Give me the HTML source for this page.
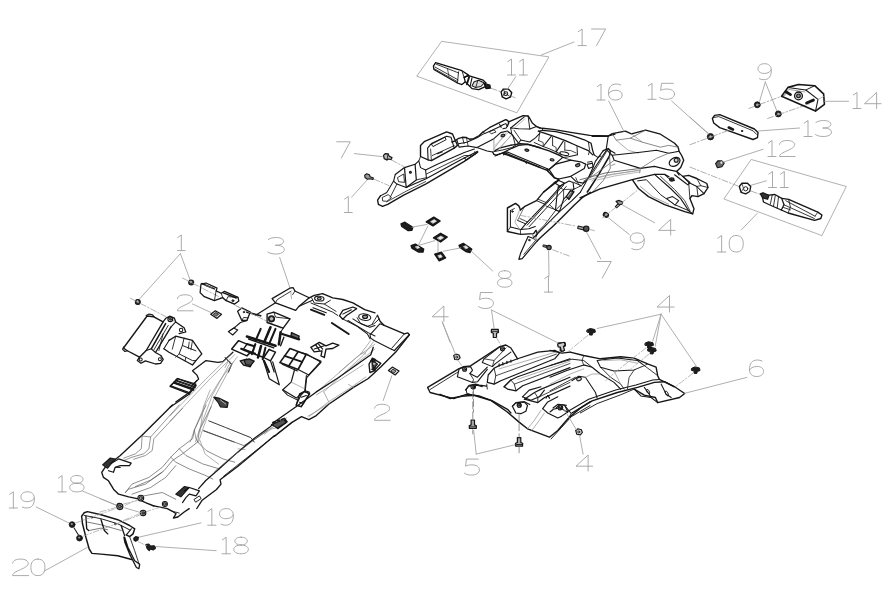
<!DOCTYPE html>
<html><head><meta charset="utf-8"><title>Parts diagram</title>
<style>html,body{margin:0;padding:0;background:#fff;}body{width:894px;height:606px;overflow:hidden;font-family:"Liberation Sans",sans-serif;}svg{display:block}</style>
</head><body>
<svg width="894" height="606" viewBox="0 0 894 606" stroke-linecap="round" stroke-linejoin="round">
<defs><filter id="soft" x="0" y="0" width="894" height="606" filterUnits="userSpaceOnUse"><feGaussianBlur stdDeviation="0.45"/></filter></defs>
<rect width="894" height="606" fill="#ffffff"/>
<g filter="url(#soft)">
<polygon points="442.0,41.4 548.9,56.9 516.9,112.8 417.1,76.3" fill="none" stroke="#9a9a9a" stroke-width="0.77"/>
<polygon points="435.6,62.6 433.4,66.2 433.9,69.5 457.4,83.0 461.9,84.6 465.3,81.8 464.1,77.4 468.6,75.1 461.9,70.7" fill="none" stroke="#111" stroke-width="1.27"/>
<polyline points="436.2,64.2 458.6,72.9" fill="none" stroke="#151515" stroke-width="0.85"/>
<polyline points="435.1,67.1 458.0,79.8" fill="none" stroke="#151515" stroke-width="0.85"/>
<polyline points="434.6,68.9 457.4,81.6" fill="none" stroke="#151515" stroke-width="0.77"/>
<polyline points="458.6,71.8 457.4,83.0" fill="none" stroke="#151515" stroke-width="0.85"/>
<polyline points="461.9,70.7 464.1,77.4" fill="none" stroke="#151515" stroke-width="0.85"/>
<polyline points="447.4,68.4 449.0,76.3" fill="none" stroke="#151515" stroke-width="0.68"/>
<polyline points="464.1,77.4 468.6,75.7 474.2,77.4 483.2,80.2 486.0,83.0 484.8,86.9 478.7,89.7 472.0,88.6 469.7,86.3 465.3,81.8" fill="none" stroke="#111" stroke-width="1.27"/>
<polyline points="469.2,76.8 466.9,84.3" fill="none" stroke="#151515" stroke-width="1.87"/>
<polyline points="472.0,77.9 470.2,85.9" fill="none" stroke="#151515" stroke-width="1.1"/>
<polygon points="474.2,81.8 478.7,80.2 484.3,83.0 480.9,86.5 475.3,87.4 472.0,85.8" fill="#ddd" stroke="#151515" stroke-width="1.02"/>
<polyline points="477.6,81.3 475.9,86.9" fill="none" stroke="#151515" stroke-width="0.85"/>
<polygon points="484.3,83.5 489.9,85.2 490.4,88.0 486.0,88.6" fill="#222" stroke="#111" stroke-width="1.27"/>
<polyline points="491.2,88.3 499.9,91.5" fill="none" stroke="#9a9a9a" stroke-width="0.8" stroke-dasharray="6 2 1.5 2"/>
<polyline points="512.2,96.6 515.2,97.7" fill="none" stroke="#9a9a9a" stroke-width="0.8" stroke-dasharray="6 2 1.5 2"/>
<polygon points="501.1,91.9 503.3,89.1 508.3,89.1 511.7,92.5 510.6,96.9 506.1,98.8 502.2,96.9" fill="none" stroke="#111" stroke-width="1.36"/>
<circle cx="505.8" cy="93.7" r="1.9" fill="none" stroke="#151515" stroke-width="1.02"/>
<polyline points="503.3,89.1 504.9,93.0 502.2,96.9" fill="none" stroke="#151515" stroke-width="0.77"/>
<polyline points="504.9,93.0 510.6,96.9" fill="none" stroke="#151515" stroke-width="0.68"/>
<path d="M18 16 L40 0 L40 100 M16 100 L64 100" transform="translate(507.5 59.0) scale(0.1667 0.1600) translate(-16 0)" fill="none" stroke="#a0a0a0" stroke-width="0.9" vector-effect="non-scaling-stroke"/>
<path d="M18 16 L40 0 L40 100 M16 100 L64 100" transform="translate(519.3 59.0) scale(0.1667 0.1600) translate(-16 0)" fill="none" stroke="#a0a0a0" stroke-width="0.9" vector-effect="non-scaling-stroke"/>
<line x1="515.7" y1="76.8" x2="507.3" y2="89.3" stroke="#a0a0a0" stroke-width="0.85"/>
<path d="M18 16 L40 0 L40 100 M16 100 L64 100" transform="translate(578.0 29.0) scale(0.1729 0.1660) translate(-16 0)" fill="none" stroke="#a0a0a0" stroke-width="0.9" vector-effect="non-scaling-stroke"/>
<path d="M6 0 L74 0 L30 100" transform="translate(591.6 29.0) scale(0.2060 0.1660) translate(-6 0)" fill="none" stroke="#a0a0a0" stroke-width="0.9" vector-effect="non-scaling-stroke"/>
<line x1="541.3" y1="55.0" x2="574.0" y2="42.0" stroke="#a0a0a0" stroke-width="0.85"/>
<polyline points="380.4,195.9 377.6,200.1 378.4,204.3 382.6,206.3 387.7,204.3 403.7,195.1 425.6,184.1 464.3,161.4 477.7,152.1" fill="none" stroke="#151515" stroke-width="1.36"/>
<polyline points="380.4,195.9 386.8,192.5 393.6,181.1" fill="none" stroke="#151515" stroke-width="1.02"/>
<polygon points="382.6,197.3 388.2,194.6 391.5,197.6 386.8,201.3 383.1,201.0" fill="none" stroke="#151515" stroke-width="0.85"/>
<polyline points="390.2,197.3 396.9,184.1" fill="none" stroke="#151515" stroke-width="0.85"/>
<polyline points="406.2,187.5 425.6,179.1 460.9,159.7 477.7,151.3" fill="none" stroke="#151515" stroke-width="1.1"/>
<polyline points="386.8,201.8 406.2,191.2 425.6,181.6" fill="none" stroke="#151515" stroke-width="0.77"/>
<polyline points="395.3,174.4 404.5,167.6" fill="none" stroke="#151515" stroke-width="1.19"/>
<polyline points="395.3,174.4 393.6,181.1 396.9,184.1 406.2,187.5" fill="none" stroke="#151515" stroke-width="1.1"/>
<polygon points="397.8,177.4 403.7,174.0 404.5,182.4 399.0,181.8" fill="none" stroke="#151515" stroke-width="0.85"/>
<polygon points="404.5,167.6 415.1,164.3 416.3,179.9 406.2,187.5" fill="none" stroke="#151515" stroke-width="1.19"/>
<circle cx="410.4" cy="172.3" r="1.0" fill="#555" stroke="#151515" stroke-width="1.02"/>
<polyline points="415.1,164.3 418.8,160.9 420.5,167.6 425.6,170.0 426.4,177.7" fill="none" stroke="#151515" stroke-width="1.02"/>
<polyline points="416.3,179.9 426.4,177.7" fill="none" stroke="#151515" stroke-width="0.85"/>
<polyline points="425.6,170.0 437.3,164.3 464.3,152.5 474.4,149.1" fill="none" stroke="#151515" stroke-width="1.02"/>
<polyline points="426.4,174.0 464.3,155.5 471.0,155.5" fill="none" stroke="#151515" stroke-width="0.85"/>
<polyline points="418.8,160.9 420.5,156.5" fill="none" stroke="#151515" stroke-width="0.85"/>
<polyline points="420.5,156.5 420.5,145.4 424.2,141.7 446.6,131.9 452.5,134.0 457.5,145.4 454.2,148.1 431.4,160.6 428.1,159.9 420.5,156.5" fill="none" stroke="#151515" stroke-width="1.36"/>
<polyline points="428.1,159.9 427.6,148.1 430.6,144.4 446.6,136.3 451.1,137.3 454.2,148.1" fill="none" stroke="#151515" stroke-width="1.1"/>
<polygon points="431.4,143.4 444.9,137.0 446.1,139.7 433.3,146.4" fill="none" stroke="#151515" stroke-width="0.94"/>
<polyline points="432.3,155.5 454.2,145.7" fill="none" stroke="#151515" stroke-width="0.85"/>
<polyline points="431.4,160.6 430.6,149.1" fill="none" stroke="#151515" stroke-width="0.77"/>
<polyline points="437.3,153.8 442.4,151.8" fill="none" stroke="#151515" stroke-width="1.02"/>
<polyline points="540.1,128.0 542.4,128.3 553.2,129.4 570.8,132.3 589.7,135.4 607.3,136.0 615.0,134.1" fill="none" stroke="#151515" stroke-width="1.36"/>
<polyline points="542.4,130.3 555.9,131.7 570.8,135.2 584.3,139.8 591.1,143.3 592.7,150.6 594.1,154.9" fill="none" stroke="#151515" stroke-width="1.27"/>
<polyline points="542.4,128.3 542.4,130.3 538.3,131.1" fill="none" stroke="#151515" stroke-width="0.94"/>
<polyline points="588.4,142.2 589.7,150.6 588.4,154.7" fill="none" stroke="#151515" stroke-width="0.85"/>
<polyline points="538.3,131.1 551.8,135.7 565.4,140.6 577.5,146.0 588.4,150.6 592.7,154.9" fill="none" stroke="#151515" stroke-width="1.27"/>
<polyline points="539.7,132.5 538.6,140.6" fill="none" stroke="#151515" stroke-width="0.85"/>
<polyline points="551.2,136.4 543.2,146.5" fill="none" stroke="#151515" stroke-width="1.02"/>
<polyline points="552.6,137.1 552.6,145.5" fill="none" stroke="#151515" stroke-width="0.85"/>
<polyline points="563.3,141.1 556.2,151.9" fill="none" stroke="#151515" stroke-width="1.02"/>
<polyline points="564.8,141.9 564.8,150.1" fill="none" stroke="#151515" stroke-width="0.85"/>
<polyline points="577.0,146.5 577.5,154.7" fill="none" stroke="#151515" stroke-width="0.94"/>
<polyline points="534.2,142.5 543.2,146.5 549.1,148.7 556.2,151.9 561.6,154.7" fill="none" stroke="#151515" stroke-width="0.94"/>
<polyline points="538.6,140.6 543.2,142.5 543.2,146.5" fill="none" stroke="#151515" stroke-width="0.77"/>
<polyline points="552.6,145.5 556.2,147.6 556.2,151.9" fill="none" stroke="#151515" stroke-width="0.77"/>
<polyline points="564.8,150.1 570.8,150.6 576.2,153.0" fill="none" stroke="#151515" stroke-width="0.77"/>
<ellipse cx="564.3" cy="153.6" rx="4.6" ry="1.6" fill="none" stroke="#151515" stroke-width="1.02" transform="rotate(12 564.3 153.6)"/>
<polyline points="577.5,154.7 568.7,156.8 562.7,157.4" fill="none" stroke="#151515" stroke-width="1.02"/>
<polyline points="520.0,143.8 527.5,144.1 535.6,146.5 549.1,150.9 560.0,155.5 562.7,157.4" fill="none" stroke="#151515" stroke-width="1.36"/>
<polyline points="511.2,145.2 520.0,143.8" fill="none" stroke="#151515" stroke-width="1.27"/>
<polyline points="495.0,150.6 499.1,148.2 511.2,145.2" fill="none" stroke="#151515" stroke-width="1.27"/>
<polyline points="503.1,152.8 507.4,151.9 549.1,169.5 553.5,165.5 562.7,157.4" fill="none" stroke="#151515" stroke-width="1.1"/>
<polyline points="503.1,152.8 495.0,156.0" fill="none" stroke="#151515" stroke-width="1.02"/>
<polyline points="505.1,154.1 526.1,162.2 547.2,170.4 549.1,169.5" fill="none" stroke="#151515" stroke-width="1.36"/>
<ellipse cx="526.8" cy="150.2" rx="2.0" ry="1.1" fill="#888" stroke="#151515" stroke-width="1.02" transform="rotate(8 526.8 150.2)"/>
<ellipse cx="552.1" cy="159.8" rx="2.0" ry="1.1" fill="#888" stroke="#151515" stroke-width="1.02" transform="rotate(8 552.1 159.8)"/>
<polyline points="503.4,153.0 503.9,154.7" fill="none" stroke="#151515" stroke-width="1.36"/>
<polyline points="525.9,162.0 526.4,163.3" fill="none" stroke="#151515" stroke-width="1.19"/>
<polyline points="547.2,169.3 547.8,170.9" fill="none" stroke="#151515" stroke-width="1.36"/>
<polyline points="508.5,132.3 512.6,134.6 515.3,144.9" fill="none" stroke="#151515" stroke-width="0.94"/>
<polyline points="495.0,145.5 508.5,132.3" fill="none" stroke="#999" stroke-width="0.68"/>
<polyline points="499.1,148.2 511.2,135.7" fill="none" stroke="#999" stroke-width="0.68"/>
<polygon points="549.1,169.5 555.9,164.1 570.8,160.1 581.6,162.2 585.7,164.1 584.3,168.5 570.8,176.3 558.6,179.0 554.5,177.7" fill="none" stroke="#151515" stroke-width="1.19"/>
<polyline points="547.2,170.4 554.5,177.9 558.6,179.3" fill="none" stroke="#151515" stroke-width="1.44"/>
<ellipse cx="577.8" cy="165.2" rx="2.2" ry="1.4" fill="#888" stroke="#151515" stroke-width="1.1" transform="rotate(-15 577.8 165.2)"/>
<polyline points="558.6,179.3 556.6,182.0 543.7,192.0" fill="none" stroke="#151515" stroke-width="1.36"/>
<polyline points="570.8,176.3 576.2,181.7 583.0,183.1 588.4,177.7 592.7,168.2" fill="none" stroke="#151515" stroke-width="1.1"/>
<polyline points="562.7,157.4 570.8,160.1" fill="none" stroke="#151515" stroke-width="0.85"/>
<polygon points="587.0,164.4 592.4,163.3 593.2,166.8 588.6,168.5" fill="none" stroke="#151515" stroke-width="1.1"/>
<polyline points="587.6,162.2 591.9,161.4 592.4,163.3" fill="none" stroke="#151515" stroke-width="0.94"/>
<polyline points="594.1,154.9 597.8,157.4 600.8,156.0" fill="none" stroke="#151515" stroke-width="1.02"/>
<polyline points="603.3,150.6 608.1,148.6 610.3,150.6 609.5,156.0 599.2,173.6 589.7,188.5 587.3,192.0" fill="none" stroke="#151515" stroke-width="1.53"/>
<polyline points="603.3,150.6 595.4,161.4 592.7,168.2" fill="none" stroke="#151515" stroke-width="1.1"/>
<polyline points="606.2,150.6 595.4,166.8 588.4,177.7 580.5,192.0" fill="none" stroke="#151515" stroke-width="1.02"/>
<polyline points="608.1,149.2 597.8,165.5 589.7,177.7" fill="none" stroke="#151515" stroke-width="0.77"/>
<polyline points="610.3,150.6 615.0,153.3" fill="none" stroke="#151515" stroke-width="1.1"/>
<polyline points="609.5,156.0 610.3,168.2 603.3,180.4 592.7,192.0" fill="none" stroke="#666" stroke-width="0.85"/>
<polyline points="611.6,165.5 615.0,164.1" fill="none" stroke="#777" stroke-width="0.77"/>
<polyline points="520.5,210.0 518.8,205.8 515.5,203.4 507.4,208.0 507.4,231.5 520.5,234.4 533.6,233.6 536.0,230.4" fill="none" stroke="#151515" stroke-width="1.44"/>
<polyline points="510.4,210.5 510.4,227.0 520.5,229.4 528.9,228.7 535.3,226.5" fill="none" stroke="#151515" stroke-width="1.02"/>
<polyline points="510.4,210.5 514.4,208.5" fill="none" stroke="#151515" stroke-width="0.85"/>
<circle cx="512.4" cy="211.5" r="0.8" fill="#666" stroke="#151515" stroke-width="0.85"/>
<polyline points="507.4,231.5 510.4,227.0" fill="none" stroke="#151515" stroke-width="0.85"/>
<polyline points="520.5,234.4 520.5,229.4" fill="none" stroke="#151515" stroke-width="0.77"/>
<polyline points="536.0,230.4 537.3,234.1 534.8,239.1 528.1,236.6" fill="none" stroke="#151515" stroke-width="1.1"/>
<polyline points="528.1,236.6 520.5,253.6 518.8,259.3 522.2,258.7 537.0,241.1" fill="none" stroke="#151515" stroke-width="1.19"/>
<polyline points="523.9,254.3 536.0,239.8" fill="none" stroke="#151515" stroke-width="0.77"/>
<circle cx="529.3" cy="240.1" r="0.8" fill="#666" stroke="#151515" stroke-width="0.85"/>
<polyline points="532.6,234.1 533.6,239.1 537.0,239.1" fill="#ddd" stroke="#666" stroke-width="0.77"/>
<polyline points="451.8,142.0 454.6,141.1 458.0,138.7 462.4,137.3 466.4,137.5 469.4,139.2 473.7,138.7 479.3,135.5 482.6,132.2 489.4,127.7 498.4,123.2 505.7,119.6 507.9,120.7 508.7,123.0 507.3,126.3" fill="none" stroke="#151515" stroke-width="1.36"/>
<polyline points="508.7,121.8 523.1,115.7 528.1,116.0 529.8,118.5 532.3,123.0 536.5,126.5 540.0,128.0" fill="none" stroke="#151515" stroke-width="1.36"/>
<polyline points="500.6,126.3 502.9,124.8 505.7,123.6 507.3,126.3 506.2,128.1 502.9,128.8" fill="none" stroke="#151515" stroke-width="1.02"/>
<polyline points="499.5,124.3 501.2,127.4" fill="none" stroke="#151515" stroke-width="1.02"/>
<polyline points="458.5,143.7 466.9,142.3 477.0,137.8 482.6,134.4 489.4,131.5 500.6,126.3" fill="none" stroke="#151515" stroke-width="1.02"/>
<polyline points="482.6,132.2 485.1,133.3" fill="none" stroke="#151515" stroke-width="0.85"/>
<polygon points="489.4,131.5 493.9,129.9 496.1,131.9 491.6,133.7" fill="none" stroke="#151515" stroke-width="0.85"/>
<polyline points="456.8,139.8 459.1,147.1 468.1,146.0 477.0,147.6 493.9,138.7 500.6,132.6 507.3,131.0 511.8,134.4 518.6,143.2" fill="none" stroke="#151515" stroke-width="1.1"/>
<polyline points="462.4,137.3 464.1,143.7" fill="none" stroke="#151515" stroke-width="0.85"/>
<polyline points="466.4,137.5 468.1,146.0" fill="none" stroke="#151515" stroke-width="0.77"/>
<polyline points="477.0,147.6 487.1,151.0 492.7,152.1" fill="none" stroke="#151515" stroke-width="1.02"/>
<polyline points="464.1,157.7 466.4,160.0 475.9,153.5 474.8,151.7" fill="none" stroke="#151515" stroke-width="1.02"/>
<polyline points="492.7,152.1 493.9,154.4 496.1,155.1 502.9,152.8 511.8,148.3 518.6,145.4 527.5,144.3 540.0,147.6" fill="none" stroke="#151515" stroke-width="1.27"/>
<polyline points="493.9,138.7 493.9,151.6" fill="none" stroke="#777" stroke-width="0.68"/>
<polyline points="493.9,151.6 502.9,149.9 511.8,147.6 518.6,143.2" fill="none" stroke="#151515" stroke-width="0.94"/>
<polyline points="507.3,131.0 493.9,149.0" fill="none" stroke="#999" stroke-width="0.68"/>
<polyline points="511.8,134.4 498.4,150.1" fill="none" stroke="#999" stroke-width="0.68"/>
<ellipse cx="502.9" cy="135.5" rx="2.0" ry="1.2" fill="#777" stroke="#151515" stroke-width="1.02" transform="rotate(-15 502.9 135.5)"/>
<polyline points="506.2,153.3 540.0,167.4" fill="none" stroke="#151515" stroke-width="1.27"/>
<polyline points="504.0,153.3 505.7,154.4" fill="none" stroke="#151515" stroke-width="1.7"/>
<ellipse cx="527.0" cy="150.2" rx="1.7" ry="0.9" fill="#999" stroke="#151515" stroke-width="0.94" transform="rotate(5 527.0 150.2)"/>
<polyline points="510.7,128.0 524.2,116.8" fill="none" stroke="#151515" stroke-width="1.02"/>
<polyline points="510.7,128.0 518.6,128.8 529.8,129.1 536.5,126.5" fill="none" stroke="#151515" stroke-width="1.02"/>
<polyline points="529.8,129.1 528.1,116.0" fill="none" stroke="#151515" stroke-width="0.94"/>
<polyline points="511.8,134.4 510.7,128.0" fill="none" stroke="#151515" stroke-width="0.94"/>
<polyline points="518.6,143.2 520.8,140.0 525.3,141.1 529.8,142.0 535.4,137.8 540.0,133.1" fill="none" stroke="#151515" stroke-width="1.02"/>
<polyline points="520.8,140.0 514.1,130.3" fill="none" stroke="#151515" stroke-width="0.85"/>
<polyline points="513.0,129.1 525.3,118.5" fill="none" stroke="#999" stroke-width="0.68"/>
<polyline points="592.1,136.2 608.2,136.2 612.2,133.6 625.3,131.1 631.5,133.8 645.6,130.1 660.5,134.2 674.6,143.2 678.2,147.2 679.1,151.3 681.7,155.5 683.7,160.3 680.7,167.4 676.6,171.4 679.1,174.8" fill="none" stroke="#151515" stroke-width="1.36"/>
<polyline points="612.2,133.6 616.2,140.2 630.3,138.2 645.6,130.1" fill="none" stroke="#666" stroke-width="0.77"/>
<polyline points="616.2,140.2 628.3,150.3 638.4,153.1" fill="none" stroke="#888" stroke-width="0.68"/>
<polyline points="630.3,138.2 642.4,142.2 660.5,147.2 668.6,145.4 678.2,147.2" fill="none" stroke="#666" stroke-width="0.77"/>
<polyline points="631.5,133.8 642.4,142.2" fill="none" stroke="#888" stroke-width="0.68"/>
<polyline points="608.2,136.2 606.2,149.3 612.2,155.3 640.4,152.3 656.5,150.3 668.6,153.3 679.1,151.3" fill="none" stroke="#151515" stroke-width="1.1"/>
<polyline points="612.2,155.3 614.2,160.3 640.4,168.4 654.5,166.4 666.6,169.4 676.6,171.4" fill="none" stroke="#151515" stroke-width="1.1"/>
<polyline points="640.4,168.4 656.5,158.3 668.6,153.3" fill="none" stroke="#666" stroke-width="0.77"/>
<polyline points="640.4,168.4 639.6,172.8" fill="none" stroke="#666" stroke-width="0.77"/>
<polyline points="580.0,197.8 600.1,188.9 632.3,179.7 654.5,174.4 664.6,174.4 669.0,176.8" fill="none" stroke="#151515" stroke-width="1.36"/>
<polyline points="580.0,179.7 606.2,172.8 640.4,168.4" fill="none" stroke="#555" stroke-width="0.85"/>
<polyline points="584.0,180.9 608.2,174.8 639.6,170.4" fill="none" stroke="#888" stroke-width="0.68"/>
<polyline points="614.2,160.3 592.1,176.4 584.0,180.9" fill="none" stroke="#666" stroke-width="0.77"/>
<ellipse cx="674.6" cy="161.9" rx="5.8" ry="4.0" fill="none" stroke="#151515" stroke-width="1.27" transform="rotate(-30 674.6 161.9)"/>
<circle cx="676.2" cy="160.3" r="2.0" fill="#ccc" stroke="#151515" stroke-width="1.1"/>
<polyline points="677.0,171.6 686.7,179.7 689.9,182.5 687.9,184.9 684.7,182.5 674.6,174.8" fill="none" stroke="#151515" stroke-width="1.1"/>
<ellipse cx="671.8" cy="179.5" rx="2.2" ry="1.6" fill="#444" stroke="#151515" stroke-width="1.1" transform="rotate(0 671.8 179.5)"/>
<polyline points="664.6,174.4 668.6,178.5 674.6,180.5" fill="none" stroke="#151515" stroke-width="0.94"/>
<polyline points="632.3,179.7 638.4,188.5 648.5,196.6 664.6,204.6 684.7,211.7 692.7,213.9 694.0,208.7 689.9,198.6 691.9,195.6 698.0,196.6 704.0,193.6 708.0,187.5 706.8,183.5 696.8,178.5 688.7,175.4 682.7,176.4" fill="none" stroke="#151515" stroke-width="1.36"/>
<polyline points="637.6,180.9 646.4,179.7 660.5,194.6 674.6,204.6 688.7,210.7" fill="none" stroke="#151515" stroke-width="0.94"/>
<polyline points="640.4,186.5 652.5,196.6 668.6,204.2" fill="none" stroke="#777" stroke-width="0.68"/>
<polyline points="654.5,174.4 670.6,188.5 680.7,198.6 688.7,210.7 692.7,213.9" fill="none" stroke="#151515" stroke-width="1.1"/>
<polyline points="660.5,176.4 674.6,189.5 684.7,200.6 689.9,210.7" fill="none" stroke="#151515" stroke-width="0.77"/>
<polyline points="666.6,198.6 672.6,196.6 678.7,200.6 675.0,205.0" fill="none" stroke="#151515" stroke-width="1.02"/>
<polyline points="666.6,198.6 675.0,205.0" fill="none" stroke="#151515" stroke-width="0.77"/>
<polyline points="682.7,176.4 688.7,182.5 696.8,186.5 704.0,193.6" fill="none" stroke="#151515" stroke-width="1.02"/>
<polyline points="696.8,186.5 698.0,196.6" fill="none" stroke="#151515" stroke-width="0.85"/>
<polyline points="688.7,182.5 689.9,198.6" fill="none" stroke="#151515" stroke-width="0.85"/>
<polyline points="696.8,178.5 700.8,185.7 708.0,187.5" fill="none" stroke="#151515" stroke-width="0.85"/>
<polyline points="700.8,185.7 696.8,186.5" fill="none" stroke="#151515" stroke-width="0.77"/>
<polyline points="590.4,192.3 582.2,197.7 574.1,205.2 564.7,214.7 553.8,225.5 540.3,237.7 537.1,241.0" fill="none" stroke="#151515" stroke-width="1.36"/>
<polyline points="580.5,192.1 571.4,201.1 560.6,210.6 547.1,224.1 536.2,235.0 533.5,237.7" fill="none" stroke="#151515" stroke-width="1.1"/>
<polyline points="574.1,191.7 564.7,201.1 556.5,209.2 544.6,224.9 536.5,233.1" fill="none" stroke="#151515" stroke-width="0.85"/>
<polyline points="640.0,170.0 614.7,174.1 595.8,178.1 591.7,181.1" fill="none" stroke="#999" stroke-width="0.68"/>
<polyline points="640.0,171.9 614.7,176.0 597.1,180.0" fill="none" stroke="#999" stroke-width="0.68"/>
<polygon points="554.1,182.5 558.2,180.3 564.4,183.0 560.4,186.5" fill="none" stroke="#151515" stroke-width="1.02"/>
<polyline points="560.4,186.5 544.7,204.1 525.7,223.9 520.3,230.4" fill="none" stroke="#151515" stroke-width="1.1"/>
<polyline points="563.6,185.2 546.8,203.3 527.1,225.2" fill="none" stroke="#151515" stroke-width="0.94"/>
<polyline points="566.3,186.5 549.5,204.7 529.2,226.6" fill="none" stroke="#151515" stroke-width="0.94"/>
<polyline points="536.5,200.6 544.7,204.1" fill="none" stroke="#151515" stroke-width="0.94"/>
<polyline points="538.2,199.2 546.0,202.5" fill="none" stroke="#151515" stroke-width="0.77"/>
<polyline points="517.6,220.4 525.7,223.9" fill="none" stroke="#151515" stroke-width="0.94"/>
<polyline points="519.8,218.5 527.6,222.0" fill="none" stroke="#151515" stroke-width="0.77"/>
<polyline points="524.4,206.7 517.6,220.4" fill="none" stroke="#555" stroke-width="0.77"/>
<polyline points="520.3,208.2 514.9,222.2 520.3,230.4" fill="none" stroke="#8c8c8c" stroke-width="0.68"/>
<polygon points="556.8,197.3 558.2,187.1 569.0,181.1 573.1,182.5 573.9,189.2 563.6,199.2 559.5,211.4 555.5,210.1" fill="none" stroke="#151515" stroke-width="1.1"/>
<polyline points="558.2,187.1 563.6,189.5 573.9,189.2" fill="none" stroke="#151515" stroke-width="0.77"/>
<polyline points="563.6,189.5 563.6,199.2" fill="none" stroke="#151515" stroke-width="0.77"/>
<polygon points="566.3,196.5 570.4,190.6 573.9,191.9 569.0,199.5" fill="#666" stroke="#151515" stroke-width="1.19"/>
<polyline points="567.7,196.3 570.9,192.2" fill="none" stroke="#ddd" stroke-width="0.85"/>
<polyline points="573.9,182.5 581.2,185.7 586.6,180.3" fill="none" stroke="#151515" stroke-width="0.94"/>
<polyline points="573.9,189.2 581.2,185.7" fill="none" stroke="#151515" stroke-width="0.85"/>
<polyline points="559.5,211.4 546.0,206.0" fill="none" stroke="#151515" stroke-width="0.85"/>
<polyline points="555.5,210.1 549.5,204.7" fill="none" stroke="#151515" stroke-width="0.77"/>
<polyline points="575.8,177.6 578.5,184.4 581.2,185.7" fill="none" stroke="#151515" stroke-width="0.77"/>
<polyline points="543.7,191.9 536.5,200.6 524.4,206.7 520.4,209.9" fill="none" stroke="#151515" stroke-width="1.36"/>
<polyline points="559.5,180.3 554.1,183.0 543.7,191.9" fill="none" stroke="#151515" stroke-width="1.27"/>
<path d="M14 94 C20 98 28 100 36 100 C62 100 73 76 73 44 C73 16 62 0 39 0 C20 0 7 12 7 31 C7 50 20 61 38 61 C56 61 70 50 73 38" transform="translate(758.0 63.7) scale(0.2015 0.1600) translate(-7 0)" fill="none" stroke="#a0a0a0" stroke-width="0.9" vector-effect="non-scaling-stroke"/>
<line x1="765.3" y1="82.0" x2="759.6" y2="101.3" stroke="#a0a0a0" stroke-width="0.85"/>
<line x1="765.3" y1="82.0" x2="776.7" y2="110.5" stroke="#a0a0a0" stroke-width="0.85"/>
<circle cx="757.3" cy="104.8" r="3.0" fill="#222" stroke="#151515" stroke-width="0.85"/>
<circle cx="757.3" cy="104.8" r="1.0" fill="#bbb" stroke="#aaa" stroke-width="0.51"/>
<circle cx="778.3" cy="113.9" r="3.0" fill="#222" stroke="#151515" stroke-width="0.85"/>
<circle cx="778.3" cy="113.9" r="1.0" fill="#bbb" stroke="#aaa" stroke-width="0.51"/>
<polyline points="748.9,108.4 785.8,94.7" fill="none" stroke="#9a9a9a" stroke-width="0.8" stroke-dasharray="6 2 1.5 2"/>
<polyline points="767.6,118.5 809.1,103.9" fill="none" stroke="#9a9a9a" stroke-width="0.8" stroke-dasharray="6 2 1.5 2"/>
<polygon points="781.6,96.2 788.0,87.4 798.5,84.5 814.7,85.7 823.6,93.8 824.4,104.3 815.5,111.1" fill="none" stroke="#151515" stroke-width="1.61"/>
<polyline points="788.0,87.4 805.8,90.0 818.0,99.4 815.5,111.1" fill="none" stroke="#151515" stroke-width="1.02"/>
<polyline points="805.8,90.0 814.7,85.7" fill="none" stroke="#151515" stroke-width="0.94"/>
<polyline points="818.0,99.4 824.1,96.2" fill="none" stroke="#999" stroke-width="0.68"/>
<polyline points="784.0,95.5 788.8,89.4 805.0,92.0" fill="none" stroke="#777" stroke-width="0.68"/>
<circle cx="798.5" cy="95.9" r="3.9" fill="#ddd" stroke="#151515" stroke-width="1.27"/>
<circle cx="798.5" cy="95.9" r="1.9" fill="#888" stroke="#151515" stroke-width="1.1"/>
<polyline points="785.9,91.7 790.5,94.6" fill="none" stroke="#151515" stroke-width="2.89"/>
<polyline points="806.6,103.0 813.4,100.1" fill="none" stroke="#151515" stroke-width="2.89"/>
<path d="M18 16 L40 0 L40 100 M16 100 L64 100" transform="translate(853.0 92.5) scale(0.1667 0.1600) translate(-16 0)" fill="none" stroke="#a0a0a0" stroke-width="0.9" vector-effect="non-scaling-stroke"/>
<path d="M58 100 L58 0 L4 70 L78 70" transform="translate(864.5 92.5) scale(0.2243 0.1600) translate(-4 0)" fill="none" stroke="#a0a0a0" stroke-width="0.9" vector-effect="non-scaling-stroke"/>
<line x1="824.6" y1="101.3" x2="848.6" y2="101.3" stroke="#a0a0a0" stroke-width="0.85"/>
<polygon points="712.4,118.5 714.6,115.3 719.7,114.6 754.4,129.0 758.0,132.6 757.5,137.6 753.0,139.5 719.7,127.6 713.7,123.0" fill="none" stroke="#151515" stroke-width="1.36"/>
<polyline points="713.7,117.5 718.8,116.6 753.0,130.8 756.6,134.4" fill="none" stroke="#151515" stroke-width="0.85"/>
<polyline points="728.8,127.6 732.9,129.4" fill="none" stroke="#151515" stroke-width="2.72"/>
<circle cx="742.0" cy="131.0" r="0.7" fill="#222" stroke="#151515" stroke-width="0.85"/>
<path d="M18 16 L40 0 L40 100 M16 100 L64 100" transform="translate(804.0 120.5) scale(0.1667 0.1600) translate(-16 0)" fill="none" stroke="#a0a0a0" stroke-width="0.9" vector-effect="non-scaling-stroke"/>
<path d="M8 12 C16 4 28 0 40 0 C58 0 70 9 70 24 C70 40 56 47 36 47 C58 47 73 56 73 73 C73 90 58 100 38 100 C24 100 12 95 6 88" transform="translate(815.5 120.5) scale(0.2388 0.1600) translate(-6 0)" fill="none" stroke="#a0a0a0" stroke-width="0.9" vector-effect="non-scaling-stroke"/>
<line x1="758.5" y1="131.0" x2="799.5" y2="128.0" stroke="#a0a0a0" stroke-width="0.85"/>
<circle cx="710.5" cy="136.7" r="3.2" fill="#222" stroke="#151515" stroke-width="0.85"/>
<circle cx="710.5" cy="136.7" r="1.1" fill="#bbb" stroke="#aaa" stroke-width="0.51"/>
<line x1="690.0" y1="117.3" x2="708.3" y2="133.3" stroke="#a0a0a0" stroke-width="0.85"/>
<polyline points="690.0,144.7 729.9,129.9" fill="none" stroke="#9a9a9a" stroke-width="0.8" stroke-dasharray="6 2 1.5 2"/>
<path d="M18 16 L40 0 L40 100 M16 100 L64 100" transform="translate(648.0 83.3) scale(0.1667 0.1600) translate(-16 0)" fill="none" stroke="#a0a0a0" stroke-width="0.9" vector-effect="non-scaling-stroke"/>
<path d="M68 0 L16 0 L12 44 C20 38 30 36 40 36 C60 36 73 48 73 67 C73 88 58 100 38 100 C24 100 13 95 7 88" transform="translate(659.5 83.3) scale(0.2273 0.1600) translate(-7 0)" fill="none" stroke="#a0a0a0" stroke-width="0.9" vector-effect="non-scaling-stroke"/>
<line x1="671.6" y1="101.0" x2="708.5" y2="134.0" stroke="#a0a0a0" stroke-width="0.85"/>
<path d="M18 16 L40 0 L40 100 M16 100 L64 100" transform="translate(597.0 84.0) scale(0.1667 0.1600) translate(-16 0)" fill="none" stroke="#a0a0a0" stroke-width="0.9" vector-effect="non-scaling-stroke"/>
<path d="M66 6 C60 2 52 0 44 0 C18 0 7 24 7 56 C7 84 18 100 41 100 C60 100 73 88 73 69 C73 50 60 39 42 39 C24 39 10 50 7 62" transform="translate(608.5 84.0) scale(0.2061 0.1600) translate(-7 0)" fill="none" stroke="#a0a0a0" stroke-width="0.9" vector-effect="non-scaling-stroke"/>
<line x1="608.7" y1="101.0" x2="624.0" y2="131.6" stroke="#a0a0a0" stroke-width="0.85"/>
<path d="M18 16 L40 0 L40 100 M16 100 L64 100" transform="translate(768.0 140.5) scale(0.1667 0.1600) translate(-16 0)" fill="none" stroke="#a0a0a0" stroke-width="0.9" vector-effect="non-scaling-stroke"/>
<path d="M8 24 C10 8 22 0 40 0 C60 0 72 10 72 26 C72 42 58 52 40 64 C22 76 8 86 8 100 L74 100" transform="translate(779.5 140.5) scale(0.2364 0.1600) translate(-8 0)" fill="none" stroke="#a0a0a0" stroke-width="0.9" vector-effect="non-scaling-stroke"/>
<line x1="724.2" y1="161.8" x2="763.0" y2="149.3" stroke="#a0a0a0" stroke-width="0.85"/>
<polygon points="715.6,163.6 717.8,160.9 721.9,160.9 724.2,163.2 721.9,166.8 717.4,167.8" fill="#666" stroke="#151515" stroke-width="1.1"/>
<circle cx="721.5" cy="162.7" r="1.6" fill="#ddd" stroke="#555" stroke-width="0.68"/>
<polygon points="751.6,159.6 846.3,186.5 821.9,235.6 724.2,199.1" fill="none" stroke="#9a9a9a" stroke-width="0.77"/>
<path d="M18 16 L40 0 L40 100 M16 100 L64 100" transform="translate(717.5 235.5) scale(0.1719 0.1650) translate(-16 0)" fill="none" stroke="#a0a0a0" stroke-width="0.9" vector-effect="non-scaling-stroke"/>
<path d="M40 0 C14 0 6 22 6 50 C6 78 14 100 40 100 C66 100 74 78 74 50 C74 22 66 0 40 0 Z" transform="translate(729.2 235.5) scale(0.2063 0.1650) translate(-6 0)" fill="none" stroke="#a0a0a0" stroke-width="0.9" vector-effect="non-scaling-stroke"/>
<line x1="741.3" y1="229.9" x2="757.3" y2="213.4" stroke="#a0a0a0" stroke-width="0.85"/>
<path d="M18 16 L40 0 L40 100 M16 100 L64 100" transform="translate(768.5 171.5) scale(0.1667 0.1600) translate(-16 0)" fill="none" stroke="#a0a0a0" stroke-width="0.9" vector-effect="non-scaling-stroke"/>
<path d="M18 16 L40 0 L40 100 M16 100 L64 100" transform="translate(780.3 171.5) scale(0.1667 0.1600) translate(-16 0)" fill="none" stroke="#a0a0a0" stroke-width="0.9" vector-effect="non-scaling-stroke"/>
<line x1="766.4" y1="180.8" x2="750.5" y2="185.4" stroke="#a0a0a0" stroke-width="0.85"/>
<polygon points="739.3,186.5 742.0,183.3 747.5,183.3 750.7,186.5 749.8,191.5 745.7,193.8 741.1,192.4" fill="none" stroke="#151515" stroke-width="1.36"/>
<circle cx="745.7" cy="188.8" r="2.1" fill="none" stroke="#151515" stroke-width="0.94"/>
<polyline points="742.0,183.3 743.4,188.3 741.1,192.4" fill="none" stroke="#151515" stroke-width="0.68"/>
<polyline points="690.0,167.1 739.1,186.5" fill="none" stroke="#9a9a9a" stroke-width="0.8" stroke-dasharray="6 2 1.5 2"/>
<polyline points="751.2,191.1 759.8,194.3" fill="none" stroke="#9a9a9a" stroke-width="0.8" stroke-dasharray="6 2 1.5 2"/>
<polygon points="760.3,193.8 763.0,192.7 769.0,195.2 767.6,199.3 762.6,197.9" fill="#333" stroke="#151515" stroke-width="1.19"/>
<polyline points="769.0,195.2 774.9,194.5 781.7,198.4 784.0,204.8 781.3,210.0 769.9,205.0 763.5,202.0 762.6,197.9" fill="none" stroke="#151515" stroke-width="1.27"/>
<polyline points="772.2,195.2 770.3,204.3" fill="none" stroke="#151515" stroke-width="0.85"/>
<polyline points="775.3,195.6 773.5,206.1" fill="none" stroke="#151515" stroke-width="0.85"/>
<polyline points="778.5,197.0 777.2,208.0" fill="none" stroke="#151515" stroke-width="0.85"/>
<polyline points="781.7,198.4 788.6,199.3 817.8,212.1 821.9,215.0 820.8,218.5 814.6,220.3 788.1,213.0 781.3,210.0" fill="none" stroke="#151515" stroke-width="1.36"/>
<polyline points="785.8,200.7 815.1,216.2" fill="none" stroke="#151515" stroke-width="0.85"/>
<polyline points="784.0,204.8 814.4,218.5" fill="none" stroke="#151515" stroke-width="0.85"/>
<polyline points="788.6,199.3 790.4,207.1 788.1,213.0" fill="none" stroke="#151515" stroke-width="0.85"/>
<polyline points="815.1,216.2 817.8,212.1" fill="none" stroke="#151515" stroke-width="0.77"/>
<polyline points="783.6,207.5 790.4,209.8" fill="none" stroke="#151515" stroke-width="0.85"/>
<path d="M6 0 L74 0 L30 100" transform="translate(336.7 141.8) scale(0.1985 0.1600) translate(-6 0)" fill="none" stroke="#a0a0a0" stroke-width="0.9" vector-effect="non-scaling-stroke"/>
<line x1="354.4" y1="153.6" x2="382.2" y2="156.6" stroke="#a0a0a0" stroke-width="0.85"/>
<polygon points="383.5,155.3 385.2,153.6 388.1,153.9 389.3,156.3 392.0,157.6 391.3,159.6 388.6,159.0 386.9,160.0 384.2,158.6" fill="#bbb" stroke="#151515" stroke-width="1.19"/>
<polyline points="388.1,153.9 386.9,160.0" fill="none" stroke="#151515" stroke-width="0.85"/>
<polyline points="391.6,160.0 404.1,166.7" fill="none" stroke="#a0a0a0" stroke-width="0.8" stroke-dasharray="6 2 1.5 2"/>
<path d="M18 16 L40 0 L40 100 M16 100 L64 100" transform="translate(344.3 196.5) scale(0.1667 0.1600) translate(-16 0)" fill="none" stroke="#a0a0a0" stroke-width="0.9" vector-effect="non-scaling-stroke"/>
<line x1="351.5" y1="197.3" x2="367.4" y2="179.7" stroke="#a0a0a0" stroke-width="0.85"/>
<polygon points="364.7,175.1 366.7,173.8 369.4,174.8 370.1,176.8 373.4,178.1 373.1,179.5 369.4,178.8 367.4,179.2 365.0,177.5" fill="#999" stroke="#151515" stroke-width="1.1"/>
<polyline points="374.1,179.2 388.9,185.6" fill="none" stroke="#a0a0a0" stroke-width="0.8" stroke-dasharray="6 2 1.5 2"/>
<polygon points="401.0,223.9 404.9,222.2 412.8,227.2 411.9,230.3 408.2,230.6 401.8,226.5" fill="#1c1c1c" stroke="#151515" stroke-width="1.36"/>
<polygon points="426.2,221.8 433.8,217.1 440.2,221.0 433.0,225.9" fill="#1c1c1c" stroke="#151515" stroke-width="1.36"/>
<polygon points="430.8,221.5 434.2,219.5 436.5,221.2 433.1,223.2" fill="#e8e8e8" stroke="#ddd" stroke-width="0.68"/>
<polygon points="433.5,237.8 440.6,233.3 447.3,237.0 440.6,242.0" fill="#1c1c1c" stroke="#151515" stroke-width="1.36"/>
<polygon points="437.5,238.0 440.9,236.0 443.6,237.7 440.2,239.7" fill="#e8e8e8" stroke="#ddd" stroke-width="0.68"/>
<polygon points="411.1,245.7 415.3,244.1 423.7,249.1 423.0,252.1 418.7,252.1 411.9,248.1" fill="#1c1c1c" stroke="#151515" stroke-width="1.36"/>
<polygon points="415.6,246.8 418.0,246.1 419.7,247.8 417.3,248.4" fill="#e8e8e8" stroke="#ddd" stroke-width="0.68"/>
<polygon points="434.7,254.2 441.4,252.1 445.6,258.0 439.2,260.9" fill="#1c1c1c" stroke="#151515" stroke-width="1.36"/>
<polygon points="438.2,255.5 440.9,254.8 442.2,256.9 439.5,257.9" fill="#e8e8e8" stroke="#ddd" stroke-width="0.68"/>
<polygon points="459.1,245.4 463.3,243.4 471.7,249.1 470.0,252.5 465.8,251.5 459.9,247.4" fill="#1c1c1c" stroke="#151515" stroke-width="1.36"/>
<polygon points="463.8,246.4 466.1,245.7 468.2,247.8 465.8,248.8" fill="#e8e8e8" stroke="#ddd" stroke-width="0.68"/>
<line x1="412.0" y1="227.2" x2="427.1" y2="224.4" stroke="#a0a0a0" stroke-width="0.85"/>
<line x1="427.9" y1="226.0" x2="418.7" y2="244.6" stroke="#a0a0a0" stroke-width="0.85"/>
<line x1="418.7" y1="245.4" x2="434.7" y2="240.7" stroke="#a0a0a0" stroke-width="0.85"/>
<line x1="438.0" y1="241.2" x2="438.0" y2="252.1" stroke="#a0a0a0" stroke-width="0.85"/>
<line x1="443.1" y1="251.3" x2="460.8" y2="247.9" stroke="#a0a0a0" stroke-width="0.85"/>
<line x1="470.9" y1="250.8" x2="492.7" y2="271.0" stroke="#a0a0a0" stroke-width="0.85"/>
<path d="M40 0 C22 0 11 9 11 23 C11 38 24 47 40 47 C56 47 69 38 69 23 C69 9 58 0 40 0 Z M40 47 C20 47 6 57 6 73 C6 90 20 100 40 100 C60 100 74 90 74 73 C74 57 60 47 40 47 Z" transform="translate(497.5 270.7) scale(0.2123 0.1650) translate(-6 0)" fill="none" stroke="#a0a0a0" stroke-width="0.9" vector-effect="non-scaling-stroke"/>
<polygon points="578.1,226.0 584.3,227.4 584.0,230.1 577.7,228.4" fill="#aaa" stroke="#151515" stroke-width="1.02"/>
<circle cx="586.2" cy="228.7" r="2.7" fill="#555" stroke="#151515" stroke-width="1.19"/>
<line x1="586.5" y1="232.1" x2="600.8" y2="259.0" stroke="#a0a0a0" stroke-width="0.85"/>
<path d="M6 0 L74 0 L30 100" transform="translate(597.4 261.5) scale(0.2047 0.1650) translate(-6 0)" fill="none" stroke="#a0a0a0" stroke-width="0.9" vector-effect="non-scaling-stroke"/>
<polyline points="520.0,215.3 576.4,226.2" fill="none" stroke="#a0a0a0" stroke-width="0.8" stroke-dasharray="6 2 1.5 2"/>
<polyline points="589.4,229.4 594.4,230.6" fill="none" stroke="#a0a0a0" stroke-width="0.8" stroke-dasharray="6 2 1.5 2"/>
<polygon points="543.6,244.9 546.9,245.6 546.6,247.6 543.2,246.6" fill="#888" stroke="#151515" stroke-width="0.94"/>
<circle cx="549.0" cy="247.6" r="2.2" fill="#666" stroke="#151515" stroke-width="1.1"/>
<line x1="548.6" y1="251.0" x2="549.0" y2="275.9" stroke="#a0a0a0" stroke-width="0.85"/>
<path d="M18 16 L40 0 L40 100 M16 100 L64 100" transform="translate(544.4 275.9) scale(0.1687 0.1620) translate(-16 0)" fill="none" stroke="#a0a0a0" stroke-width="0.9" vector-effect="non-scaling-stroke"/>
<polyline points="552.8,249.8 569.2,256.0" fill="none" stroke="#a0a0a0" stroke-width="0.8" stroke-dasharray="6 2 1.5 2"/>
<ellipse cx="605.9" cy="214.9" rx="2.7" ry="2.2" fill="#333" stroke="#151515" stroke-width="1.1" transform="rotate(30 605.9 214.9)"/>
<circle cx="606.2" cy="214.6" r="1.0" fill="#bbb" stroke="#aaa" stroke-width="0.51"/>
<line x1="608.4" y1="217.8" x2="629.4" y2="234.6" stroke="#a0a0a0" stroke-width="0.85"/>
<path d="M14 94 C20 98 28 100 36 100 C62 100 73 76 73 44 C73 16 62 0 39 0 C20 0 7 12 7 31 C7 50 20 61 38 61 C56 61 70 50 73 38" transform="translate(630.3 232.9) scale(0.2116 0.1680) translate(-7 0)" fill="none" stroke="#a0a0a0" stroke-width="0.9" vector-effect="non-scaling-stroke"/>
<polygon points="616.0,201.4 619.3,200.4 622.7,202.1 622.0,204.1 619.3,204.8" fill="#999" stroke="#151515" stroke-width="1.1"/>
<polygon points="617.6,204.1 615.3,206.8 616.6,207.8 619.7,205.2" fill="#bbb" stroke="#151515" stroke-width="1.02"/>
<line x1="622.7" y1="205.2" x2="654.7" y2="222.8" stroke="#a0a0a0" stroke-width="0.85"/>
<path d="M58 100 L58 0 L4 70 L78 70" transform="translate(658.7 219.3) scale(0.2215 0.1580) translate(-4 0)" fill="none" stroke="#a0a0a0" stroke-width="0.9" vector-effect="non-scaling-stroke"/>
<polyline points="602.5,217.9 637.8,190.0" fill="none" stroke="#a0a0a0" stroke-width="0.8" stroke-dasharray="6 2 1.5 2"/>
<path d="M18 16 L40 0 L40 100 M16 100 L64 100" transform="translate(177.4 235.0) scale(0.1625 0.1560) translate(-16 0)" fill="none" stroke="#a0a0a0" stroke-width="0.9" vector-effect="non-scaling-stroke"/>
<line x1="180.4" y1="253.6" x2="139.5" y2="299.0" stroke="#a0a0a0" stroke-width="0.85"/>
<line x1="180.4" y1="253.6" x2="190.0" y2="279.7" stroke="#a0a0a0" stroke-width="0.85"/>
<circle cx="191.2" cy="282.5" r="2.5" fill="#333" stroke="#151515" stroke-width="1.02"/>
<circle cx="190.9" cy="281.9" r="0.8" fill="#ccc" stroke="#bbb" stroke-width="0.42"/>
<circle cx="137.8" cy="302.1" r="2.5" fill="#333" stroke="#151515" stroke-width="1.02"/>
<circle cx="137.5" cy="301.4" r="0.8" fill="#ccc" stroke="#bbb" stroke-width="0.42"/>
<polyline points="182.4,278.0 239.7,307.4" fill="none" stroke="#a0a0a0" stroke-width="0.8" stroke-dasharray="6 2 1.5 2"/>
<polyline points="130.3,298.2 175.7,321.8" fill="none" stroke="#a0a0a0" stroke-width="0.8" stroke-dasharray="6 2 1.5 2"/>
<path d="M8 24 C10 8 22 0 40 0 C60 0 72 10 72 26 C72 42 58 52 40 64 C22 76 8 86 8 100 L74 100" transform="translate(177.4 294.8) scale(0.2364 0.1600) translate(-8 0)" fill="none" stroke="#a0a0a0" stroke-width="0.9" vector-effect="non-scaling-stroke"/>
<line x1="192.5" y1="304.0" x2="211.0" y2="312.5" stroke="#a0a0a0" stroke-width="0.85"/>
<polygon points="210.7,314.2 215.3,310.8 221.5,314.2 217.0,318.4" fill="#ddd" stroke="#151515" stroke-width="1.19"/>
<polygon points="213.6,314.2 215.8,312.5 218.6,314.2 216.4,316.0" fill="#777" stroke="#151515" stroke-width="0.77"/>
<polygon points="201.0,284.2 206.0,283.0 217.0,288.1 216.1,290.9 221.2,293.3 224.5,291.4 238.0,297.3 238.8,301.0 234.6,304.1 226.2,300.7 222.8,297.7 217.8,299.4 214.4,300.7 204.3,296.7 200.1,292.6" fill="none" stroke="#151515" stroke-width="1.27"/>
<polyline points="201.8,283.5 214.4,288.9" fill="none" stroke="#151515" stroke-width="1.44"/>
<polyline points="206.0,285.6 212.7,288.1" fill="none" stroke="#555" stroke-width="1.19"/>
<polyline points="222.8,292.6 236.3,298.0" fill="none" stroke="#151515" stroke-width="1.36"/>
<polyline points="221.2,293.3 222.8,297.7" fill="none" stroke="#151515" stroke-width="0.85"/>
<polyline points="226.2,300.7 227.9,296.7 238.0,297.3" fill="none" stroke="#151515" stroke-width="0.85"/>
<circle cx="232.9" cy="300.7" r="1.0" fill="#555" stroke="#151515" stroke-width="0.85"/>
<polyline points="216.1,290.9 214.4,300.7" fill="none" stroke="#151515" stroke-width="0.85"/>
<polygon points="147.1,316.0 123.5,348.0 126.9,350.5 139.5,357.2 146.2,350.5 163.1,321.9 153.8,316.8" fill="none" stroke="#151515" stroke-width="1.36"/>
<polyline points="146.2,315.5 149.1,314.1 152.5,314.8 154.2,316.8" fill="none" stroke="#151515" stroke-width="1.1"/>
<polyline points="123.9,346.8 122.5,349.2 124.9,351.5 127.6,350.8" fill="none" stroke="#151515" stroke-width="1.1"/>
<polyline points="139.5,357.2 137.3,360.6 141.0,363.3 145.4,360.9 155.5,364.0 160.6,363.3 163.2,359.3 160.9,355.6" fill="none" stroke="#151515" stroke-width="1.27"/>
<circle cx="140.7" cy="359.6" r="1.5" fill="none" stroke="#151515" stroke-width="1.02"/>
<circle cx="159.9" cy="359.3" r="1.5" fill="none" stroke="#151515" stroke-width="1.02"/>
<polyline points="163.1,321.9 165.9,318.2 169.6,316.2 174.4,318.2 175.7,321.9 184.1,327.8 185.8,332.0 179.1,333.7" fill="none" stroke="#151515" stroke-width="1.27"/>
<circle cx="170.3" cy="319.2" r="2.4" fill="none" stroke="#151515" stroke-width="1.19"/>
<circle cx="170.3" cy="319.2" r="1.0" fill="#777" stroke="#151515" stroke-width="0.85"/>
<circle cx="181.1" cy="330.0" r="1.7" fill="none" stroke="#151515" stroke-width="1.02"/>
<polyline points="165.6,323.6 151.3,348.8" fill="none" stroke="#151515" stroke-width="1.53"/>
<polyline points="171.0,326.9 155.5,352.5" fill="none" stroke="#151515" stroke-width="1.36"/>
<polyline points="168.3,325.3 153.5,350.5" fill="none" stroke="#151515" stroke-width="0.85"/>
<polyline points="146.2,350.5 151.3,348.8 155.5,352.5 160.9,355.6" fill="none" stroke="#151515" stroke-width="1.1"/>
<polyline points="175.7,321.9 171.0,326.9" fill="none" stroke="#151515" stroke-width="1.02"/>
<polyline points="163.1,333.7 158.9,350.5" fill="none" stroke="#151515" stroke-width="0.85"/>
<polyline points="169.0,340.4 175.7,336.2 192.5,340.4 201.8,353.9 195.9,360.6 192.5,365.0 187.5,362.3 169.0,352.2 163.9,348.8" fill="none" stroke="#151515" stroke-width="1.27"/>
<polyline points="169.0,340.4 163.9,348.8" fill="none" stroke="#151515" stroke-width="1.02"/>
<polyline points="184.1,338.0 182.4,345.5 195.9,350.8" fill="none" stroke="#151515" stroke-width="0.94"/>
<polyline points="189.2,342.1 188.3,348.8" fill="none" stroke="#151515" stroke-width="0.85"/>
<polyline points="182.4,345.5 179.1,353.9 192.5,360.6 195.9,360.6" fill="none" stroke="#151515" stroke-width="0.94"/>
<polyline points="175.7,336.2 172.3,349.2" fill="none" stroke="#151515" stroke-width="0.85"/>
<polyline points="192.5,340.4 190.9,349.8" fill="none" stroke="#151515" stroke-width="0.85"/>
<polyline points="179.1,353.9 175.7,357.2" fill="none" stroke="#151515" stroke-width="0.85"/>
<polyline points="185.8,357.2 185.1,360.9" fill="none" stroke="#151515" stroke-width="0.85"/>
<polyline points="232.9,352.2 222.8,361.6 217.8,362.3 206.0,360.6 192.5,370.7 196.9,375.1 198.6,379.1 192.5,385.0" fill="none" stroke="#151515" stroke-width="1.27"/>
<polygon points="177.4,378.5 170.7,385.9 189.2,392.6 195.9,384.2" fill="none" stroke="#151515" stroke-width="1.27"/>
<polyline points="174.0,382.5 192.5,388.6" fill="none" stroke="#151515" stroke-width="1.87"/>
<polyline points="175.7,380.1 194.2,386.2" fill="none" stroke="#151515" stroke-width="1.19"/>
<polyline points="189.2,392.6 175.7,402.0" fill="none" stroke="#151515" stroke-width="1.19"/>
<path d="M8 12 C16 4 28 0 40 0 C58 0 70 9 70 24 C70 40 56 47 36 47 C58 47 73 56 73 73 C73 90 58 100 38 100 C24 100 12 95 6 88" transform="translate(267.8 237.5) scale(0.2463 0.1650) translate(-6 0)" fill="none" stroke="#a0a0a0" stroke-width="0.9" vector-effect="non-scaling-stroke"/>
<line x1="279.7" y1="257.5" x2="290.0" y2="288.0" stroke="#a0a0a0" stroke-width="0.85"/>
<polygon points="272.1,298.6 289.8,288.2 293.2,287.7 294.9,291.0 309.2,297.8 299.1,306.2 295.7,310.4 275.5,302.8" fill="none" stroke="#151515" stroke-width="1.27"/>
<polyline points="275.5,302.8 277.2,299.6 291.0,291.2" fill="none" stroke="#151515" stroke-width="0.85"/>
<polyline points="294.9,291.0 292.7,294.6" fill="none" stroke="#151515" stroke-width="0.85"/>
<polyline points="299.1,306.2 312.5,300.3" fill="none" stroke="#151515" stroke-width="1.02"/>
<polyline points="290.7,291.2 291.5,298.6" fill="none" stroke="#8c8c8c" stroke-width="0.68"/>
<polyline points="309.2,297.8 314.2,295.3 322.6,293.6 332.7,297.8 342.8,299.5 352.9,302.8 364.7,309.6 375.0,312.9" fill="none" stroke="#151515" stroke-width="1.36"/>
<ellipse cx="319.3" cy="298.6" rx="4.7" ry="2.4" fill="none" stroke="#151515" stroke-width="1.1" transform="rotate(5 319.3 298.6)"/>
<ellipse cx="319.3" cy="298.6" rx="2.0" ry="1.3" fill="#aaa" stroke="#151515" stroke-width="1.02" transform="rotate(0 319.3 298.6)"/>
<polyline points="311.7,297.9 314.2,303.0 324.3,304.0 330.4,300.3" fill="none" stroke="#151515" stroke-width="0.94"/>
<polyline points="310.9,303.0 319.3,306.4 332.7,312.1 337.8,315.5" fill="none" stroke="#151515" stroke-width="0.94"/>
<polyline points="324.3,304.0 336.1,311.4" fill="none" stroke="#151515" stroke-width="0.85"/>
<polyline points="310.9,309.7 324.3,314.8" fill="none" stroke="#151515" stroke-width="1.87"/>
<polyline points="312.9,307.7 326.3,312.8" fill="none" stroke="#151515" stroke-width="1.02"/>
<polygon points="339.5,315.8 342.8,310.4 352.9,307.0 356.6,308.7 346.5,315.5 342.8,319.2" fill="none" stroke="#151515" stroke-width="1.27"/>
<polyline points="342.8,314.1 351.3,309.7" fill="none" stroke="#151515" stroke-width="1.02"/>
<ellipse cx="364.7" cy="317.1" rx="6.1" ry="3.2" fill="none" stroke="#151515" stroke-width="1.1" transform="rotate(8 364.7 317.1)"/>
<ellipse cx="365.1" cy="316.8" rx="2.5" ry="1.7" fill="#999" stroke="#151515" stroke-width="1.19" transform="rotate(0 365.1 316.8)"/>
<polyline points="352.9,318.8 358.0,322.2 369.8,327.2 375.0,325.6" fill="none" stroke="#151515" stroke-width="1.02"/>
<polyline points="347.9,320.5 368.1,332.6 375.0,336.0" fill="none" stroke="#151515" stroke-width="1.02"/>
<polyline points="331.9,323.0 348.7,334.0" fill="none" stroke="#151515" stroke-width="2.04"/>
<polyline points="255.3,315.5 275.5,302.8" fill="none" stroke="#151515" stroke-width="1.27"/>
<polyline points="246.9,312.1 260.7,315.8" fill="none" stroke="#151515" stroke-width="1.7"/>
<polygon points="237.6,311.2 241.8,307.9 250.3,312.1 246.9,320.5 241.8,320.5" fill="none" stroke="#151515" stroke-width="1.27"/>
<circle cx="243.9" cy="312.1" r="0.7" fill="#333" stroke="#151515" stroke-width="0.85"/>
<polyline points="241.8,320.5 243.5,317.5 248.2,317.8" fill="none" stroke="#151515" stroke-width="0.85"/>
<polyline points="236.8,306.2 280.6,328.1" fill="none" stroke="#a0a0a0" stroke-width="0.8" stroke-dasharray="6 2 1.5 2"/>
<polygon points="228.4,331.6 233.4,328.1 237.8,329.9 232.7,335.0" fill="none" stroke="#151515" stroke-width="1.1"/>
<polyline points="235.1,327.2 240.5,322.5 246.9,320.5" fill="none" stroke="#151515" stroke-width="1.1"/>
<polyline points="235.1,327.2 228.4,331.6" fill="none" stroke="#151515" stroke-width="1.02"/>
<polygon points="267.1,314.1 273.8,312.1 290.0,318.8 283.2,328.2 267.1,322.5" fill="none" stroke="#151515" stroke-width="1.36"/>
<circle cx="271.5" cy="318.8" r="2.9" fill="#444" stroke="#151515" stroke-width="1.36"/>
<circle cx="271.5" cy="318.8" r="1.2" fill="#bbb" stroke="#ccc" stroke-width="0.68"/>
<polyline points="273.8,312.1 275.5,317.1 290.0,318.8" fill="none" stroke="#151515" stroke-width="0.85"/>
<polyline points="246.9,336.5 275.5,345.8" fill="none" stroke="#151515" stroke-width="2.55"/>
<polyline points="248.6,339.0 273.8,347.8" fill="none" stroke="#151515" stroke-width="1.36"/>
<polyline points="260.7,328.9 255.6,340.7" fill="none" stroke="#151515" stroke-width="2.04"/>
<polyline points="270.5,327.2 264.1,342.4" fill="none" stroke="#151515" stroke-width="2.55"/>
<polyline points="275.5,328.9 269.1,344.1" fill="none" stroke="#151515" stroke-width="2.04"/>
<polyline points="280.6,332.3 278.9,344.4" fill="none" stroke="#151515" stroke-width="2.55"/>
<polyline points="282.2,334.0 299.1,339.4" fill="none" stroke="#151515" stroke-width="2.21"/>
<polygon points="291.5,332.6 299.1,336.0 298.4,339.0 291.0,336.0" fill="#666" stroke="#151515" stroke-width="1.36"/>
<polyline points="283.2,328.2 280.6,332.3" fill="none" stroke="#151515" stroke-width="1.02"/>
<polyline points="283.9,337.3 280.6,345.8" fill="none" stroke="#151515" stroke-width="1.36"/>
<polyline points="238.5,340.7 231.7,349.1 246.9,355.9 250.3,352.5 263.7,357.5 269.1,349.5" fill="none" stroke="#151515" stroke-width="1.53"/>
<polyline points="238.5,340.7 246.9,344.1 243.5,349.1 255.3,353.5" fill="none" stroke="#151515" stroke-width="1.36"/>
<polyline points="246.9,344.1 253.6,346.1" fill="none" stroke="#151515" stroke-width="2.04"/>
<polyline points="241.2,348.8 250.3,352.5" fill="none" stroke="#151515" stroke-width="2.21"/>
<polyline points="255.3,344.1 251.9,354.2" fill="none" stroke="#151515" stroke-width="2.04"/>
<polyline points="261.0,346.1 258.0,357.5" fill="none" stroke="#151515" stroke-width="2.55"/>
<polyline points="265.4,347.8 262.7,359.2" fill="none" stroke="#151515" stroke-width="2.04"/>
<polyline points="269.1,349.5 275.5,352.2 270.5,360.9 263.7,357.5" fill="none" stroke="#151515" stroke-width="1.36"/>
<polygon points="240.2,360.9 246.9,359.2 251.9,362.6 250.3,366.8 243.5,365.1" fill="#888" stroke="#151515" stroke-width="1.36"/>
<polyline points="264.1,360.9 269.1,372.0" fill="none" stroke="#151515" stroke-width="2.04"/>
<polyline points="270.5,360.9 274.2,372.0" fill="none" stroke="#151515" stroke-width="1.19"/>
<polygon points="279.9,362.6 290.0,348.5 306.1,354.5 298.1,369.5" fill="none" stroke="#151515" stroke-width="1.61"/>
<polyline points="284.6,355.9 302.1,361.9" fill="none" stroke="#151515" stroke-width="1.7"/>
<polyline points="298.1,351.8 288.6,366.1" fill="none" stroke="#151515" stroke-width="1.7"/>
<polyline points="306.1,354.5 321.1,361.2 308.8,374.9 298.1,369.5" fill="none" stroke="#151515" stroke-width="1.1"/>
<polyline points="282.2,364.3 297.4,371.0" fill="none" stroke="#151515" stroke-width="1.02"/>
<polygon points="310.9,347.4 319.3,342.4 326.0,345.8 332.7,343.2 338.8,345.1 332.7,348.5 326.0,349.1 324.3,357.5 321.0,355.9 322.0,350.8 314.2,351.8" fill="none" stroke="#151515" stroke-width="1.36"/>
<polyline points="315.9,345.1 319.3,350.1" fill="none" stroke="#151515" stroke-width="1.36"/>
<polyline points="318.6,344.1 322.6,349.1" fill="none" stroke="#151515" stroke-width="1.19"/>
<polyline points="314.2,349.1 324.3,345.8" fill="none" stroke="#151515" stroke-width="1.02"/>
<polyline points="375.0,344.1 356.3,357.5 339.5,372.0" fill="none" stroke="#8c8c8c" stroke-width="0.68"/>
<polyline points="375.0,349.1 359.7,360.9 346.2,372.0" fill="none" stroke="#8c8c8c" stroke-width="0.68"/>
<polyline points="371.1,360.9 375.0,359.2 375.0,371.0 371.8,369.3" fill="#555" stroke="#151515" stroke-width="1.27"/>
<polyline points="225.0,357.5 231.7,364.3 228.4,372.0" fill="none" stroke="#151515" stroke-width="1.02"/>
<polyline points="228.4,360.9 225.0,367.6" fill="none" stroke="#8c8c8c" stroke-width="0.68"/>
<polyline points="377.4,315.3 380.1,321.3 384.2,325.4 394.3,329.7 404.4,333.8 407.7,332.9 409.4,334.6 394.3,350.6" fill="none" stroke="#151515" stroke-width="1.36"/>
<polyline points="384.2,325.4 380.1,323.7 370.0,334.8 370.7,338.1 374.1,340.5 390.9,348.9 394.3,350.6" fill="none" stroke="#151515" stroke-width="1.1"/>
<polyline points="404.4,333.8 391.8,348.2" fill="none" stroke="#151515" stroke-width="0.94"/>
<polyline points="377.4,315.3 372.4,323.7" fill="none" stroke="#151515" stroke-width="0.85"/>
<polyline points="357.2,317.8 360.6,323.7 367.3,326.4 374.1,323.7 379.1,319.0" fill="none" stroke="#151515" stroke-width="0.94"/>
<polyline points="342.1,318.6 357.2,326.4 367.3,333.8 370.0,338.8" fill="none" stroke="#151515" stroke-width="1.02"/>
<polyline points="370.7,340.5 360.6,354.0 316.8,392.0" fill="none" stroke="#8c8c8c" stroke-width="0.68"/>
<polyline points="373.4,341.9 363.6,355.0 323.6,392.0" fill="none" stroke="#8c8c8c" stroke-width="0.68"/>
<polyline points="360.6,354.0 364.0,352.6 365.7,354.0" fill="none" stroke="#8c8c8c" stroke-width="0.68"/>
<polygon points="369.0,364.1 372.4,358.2 380.8,363.4 374.1,370.8 369.9,372.5" fill="none" stroke="#151515" stroke-width="1.36"/>
<polygon points="372.4,360.7 377.4,364.1 373.4,369.1" fill="#555" stroke="#151515" stroke-width="1.19"/>
<circle cx="374.1" cy="363.7" r="0.8" fill="#ddd" stroke="#ccc" stroke-width="0.68"/>
<polygon points="388.4,370.5 392.3,367.1 399.0,371.1 395.1,375.0" fill="#ddd" stroke="#151515" stroke-width="1.19"/>
<polygon points="391.2,370.8 392.9,369.1 396.0,371.1 394.3,372.8" fill="#999" stroke="#151515" stroke-width="0.77"/>
<path d="M58 100 L58 0 L4 70 L78 70" transform="translate(432.2 306.0) scale(0.2159 0.1540) translate(-4 0)" fill="none" stroke="#a0a0a0" stroke-width="0.9" vector-effect="non-scaling-stroke"/>
<line x1="442.3" y1="322.0" x2="450.0" y2="342.2" stroke="#a0a0a0" stroke-width="0.85"/>
<polyline points="300.0,352.3 306.7,354.0 321.0,362.4 306.7,377.5 305.1,392.0" fill="none" stroke="#151515" stroke-width="1.1"/>
<polygon points="177.6,378.7 170.0,386.3 189.4,393.9 196.1,385.5" fill="none" stroke="#151515" stroke-width="1.27"/>
<polyline points="174.2,382.9 193.6,389.8" fill="none" stroke="#151515" stroke-width="1.87"/>
<polyline points="176.1,381.1 195.3,387.8" fill="none" stroke="#151515" stroke-width="1.1"/>
<polyline points="189.4,393.9 170.0,407.3" fill="none" stroke="#151515" stroke-width="1.19"/>
<polyline points="191.9,385.5 196.9,380.4" fill="none" stroke="#151515" stroke-width="1.02"/>
<polyline points="232.3,353.5 208.7,376.2 170.0,415.8" fill="none" stroke="#8c8c8c" stroke-width="0.68"/>
<polyline points="234.6,354.8 211.1,377.7 170.0,421.1" fill="none" stroke="#8c8c8c" stroke-width="0.68"/>
<polyline points="237.3,356.8 218.8,382.1 205.4,404.0 195.3,427.5 190.2,442.0" fill="none" stroke="#8c8c8c" stroke-width="0.68"/>
<polyline points="230.6,361.9 212.1,395.6 200.3,427.5 195.3,442.0" fill="none" stroke="#8c8c8c" stroke-width="0.68"/>
<polyline points="233.3,361.9 214.8,396.6 203.0,428.6 198.6,442.0" fill="none" stroke="#8c8c8c" stroke-width="0.68"/>
<polyline points="263.4,360.2 269.3,378.7 279.4,384.8 272.7,361.9" fill="none" stroke="#151515" stroke-width="1.19"/>
<polygon points="244.1,360.2 249.1,358.9 254.2,361.2 250.8,365.3 245.8,364.6" fill="#555" stroke="#151515" stroke-width="1.27"/>
<polyline points="294.6,369.5 291.2,382.1 282.8,389.7 296.3,398.1 303.0,392.2" fill="none" stroke="#151515" stroke-width="1.19"/>
<polyline points="306.4,375.4 304.7,390.5 309.7,392.2" fill="none" stroke="#151515" stroke-width="1.02"/>
<polyline points="291.2,382.1 304.7,388.8" fill="none" stroke="#8c8c8c" stroke-width="0.68"/>
<polygon points="213.8,397.2 218.8,398.1 228.1,402.6 227.2,407.3 220.5,407.0 218.1,402.3" fill="#444" stroke="#151515" stroke-width="1.19"/>
<polyline points="220.5,399.9 225.6,404.0" fill="none" stroke="#ccc" stroke-width="0.85"/>
<polygon points="299.6,393.9 304.7,391.3 309.7,393.9 301.3,406.7 296.3,405.0" fill="none" stroke="#151515" stroke-width="1.27"/>
<polyline points="301.3,397.2 306.4,395.6" fill="none" stroke="#151515" stroke-width="1.02"/>
<polyline points="299.6,402.3 303.0,403.3" fill="none" stroke="#151515" stroke-width="1.02"/>
<polygon points="272.7,422.5 284.5,418.3 287.2,421.8 277.7,428.6" fill="#666" stroke="#151515" stroke-width="1.36"/>
<polyline points="276.1,420.8 277.7,425.9" fill="none" stroke="#ddd" stroke-width="1.02"/>
<polyline points="280.4,419.8 282.1,424.2" fill="none" stroke="#ddd" stroke-width="1.02"/>
<polyline points="208.7,420.8 225.6,427.5 250.8,437.6 254.2,442.0" fill="none" stroke="#151515" stroke-width="0.85"/>
<polyline points="203.7,430.9 234.0,442.0" fill="none" stroke="#151515" stroke-width="0.77"/>
<polyline points="264.3,434.3 271.0,429.2 277.7,427.5" fill="none" stroke="#8c8c8c" stroke-width="0.68"/>
<polyline points="172.4,405.0 143.8,433.6 120.3,455.5 105.1,467.3 101.7,472.3 103.4,477.4 108.5,480.8 113.5,489.2 118.6,494.2 128.7,496.8 137.1,498.6 145.5,502.6 153.9,506.0" fill="none" stroke="#151515" stroke-width="1.36"/>
<polyline points="179.2,405.0 150.6,437.0 148.9,448.8 143.8,453.8 132.0,457.2 123.6,460.6" fill="none" stroke="#666" stroke-width="0.68"/>
<polyline points="182.5,408.4 153.9,438.7 152.2,450.5 145.5,455.5 133.7,459.2" fill="none" stroke="#666" stroke-width="0.68"/>
<polyline points="142.1,436.1 141.3,448.8 135.4,453.8 123.6,458.2" fill="none" stroke="#666" stroke-width="0.68"/>
<polyline points="142.1,436.1 150.6,437.0" fill="none" stroke="#666" stroke-width="0.68"/>
<polyline points="206.1,405.0 194.3,430.3 192.6,438.7 179.2,448.8 170.8,457.2 162.3,467.3 148.9,477.4 132.0,484.1 125.3,492.5" fill="none" stroke="#555" stroke-width="0.68"/>
<polyline points="211.2,406.7 199.4,430.3 197.7,442.0 182.5,453.8 172.4,460.6 164.0,470.7 150.6,480.1 135.4,486.5" fill="none" stroke="#555" stroke-width="0.68"/>
<polyline points="194.3,430.3 196.0,438.7 197.7,442.0" fill="none" stroke="#666" stroke-width="0.68"/>
<polyline points="170.8,457.2 175.8,462.2 189.3,469.0 206.1,475.7 212.8,479.1" fill="none" stroke="#555" stroke-width="0.68"/>
<polyline points="179.2,448.8 185.9,455.5 202.7,463.9 219.6,469.0" fill="none" stroke="#555" stroke-width="0.68"/>
<polyline points="197.7,442.0 206.1,450.5 222.9,458.9 234.7,462.2" fill="none" stroke="#555" stroke-width="0.68"/>
<polyline points="238.1,448.8 245.0,449.6" fill="none" stroke="#8c8c8c" stroke-width="0.68"/>
<polygon points="102.6,464.8 110.2,458.0 115.2,458.9 107.6,468.3" fill="#333" stroke="#151515" stroke-width="1.02"/>
<polyline points="110.2,463.9 118.6,458.9 131.2,463.1 129.5,465.6 120.3,465.6 115.2,467.3 113.5,472.3 108.5,470.7" fill="none" stroke="#151515" stroke-width="1.19"/>
<polyline points="115.2,467.3 120.3,467.6" fill="none" stroke="#151515" stroke-width="1.02"/>
<polygon points="175.8,494.2 184.2,486.6 189.3,487.5 180.9,496.9" fill="#333" stroke="#151515" stroke-width="1.02"/>
<polyline points="184.2,490.9 189.3,487.5 199.4,490.9 196.0,495.9 189.3,494.2 185.9,497.6 182.5,502.6" fill="none" stroke="#151515" stroke-width="1.19"/>
<polygon points="194.3,499.3 199.4,495.9 201.1,498.6 196.0,502.0" fill="none" stroke="#151515" stroke-width="0.94"/>
<circle cx="140.8" cy="498.1" r="2.9" fill="#ddd" stroke="#151515" stroke-width="1.1"/>
<circle cx="140.8" cy="498.1" r="1.6" fill="#999" stroke="#151515" stroke-width="0.85"/>
<circle cx="164.9" cy="504.0" r="2.5" fill="#ddd" stroke="#151515" stroke-width="1.1"/>
<circle cx="164.9" cy="504.0" r="1.4" fill="#999" stroke="#151515" stroke-width="0.85"/>
<circle cx="119.4" cy="505.7" r="2.4" fill="#ddd" stroke="#151515" stroke-width="1.1"/>
<circle cx="119.4" cy="505.7" r="1.3" fill="#999" stroke="#151515" stroke-width="0.85"/>
<polyline points="125.3,492.5 128.7,489.2 145.5,484.1 162.3,472.3" fill="none" stroke="#555" stroke-width="0.68"/>
<polyline points="132.0,494.2 150.6,487.5 165.7,477.4 175.8,465.6" fill="none" stroke="#555" stroke-width="0.68"/>
<polyline points="138.8,496.8 162.3,492.5 175.8,499.3" fill="none" stroke="#555" stroke-width="0.68"/>
<polyline points="123.6,504.0 137.4,500.6" fill="none" stroke="#a0a0a0" stroke-width="0.7" stroke-dasharray="6 2 1.5 2"/>
<polygon points="271.5,424.5 284.2,419.5 285.9,422.8 277.4,428.0" fill="#555" stroke="#151515" stroke-width="1.27"/>
<polygon points="296.0,405.2 301.0,395.1 304.4,391.7 309.4,393.4 304.4,401.8 301.0,406.8" fill="none" stroke="#151515" stroke-width="1.19"/>
<polyline points="282.5,390.0 287.5,395.1 297.6,400.1" fill="none" stroke="#151515" stroke-width="1.02"/>
<polyline points="203.4,430.4 216.8,435.5 243.8,445.6 255.6,438.8 267.3,430.4" fill="none" stroke="#555" stroke-width="0.77"/>
<polyline points="200.0,440.5 205.1,454.0 218.5,464.1" fill="none" stroke="#8c8c8c" stroke-width="0.68"/>
<polyline points="210.1,390.0 203.4,406.8 200.0,432.1" fill="none" stroke="#8c8c8c" stroke-width="0.68"/>
<polyline points="274.3,422.1 295.3,407.2 316.3,391.9 338.6,377.5 358.4,363.4 370.8,354.8 373.3,347.3" fill="none" stroke="#151515" stroke-width="1.27"/>
<polyline points="274.3,436.4 291.6,422.6 301.5,416.6 308.9,419.6 316.3,415.6 328.7,404.3 353.5,387.4 368.3,378.5 380.7,367.1 395.5,352.3 409.2,335.0" fill="none" stroke="#151515" stroke-width="1.36"/>
<polyline points="308.9,416.6 328.7,401.8 353.5,385.7 365.8,377.0" fill="none" stroke="#8c8c8c" stroke-width="0.68"/>
<polyline points="316.3,394.9 338.6,380.7 363.4,364.7" fill="none" stroke="#8c8c8c" stroke-width="0.68"/>
<polyline points="323.8,391.9 328.7,401.8" fill="none" stroke="#8c8c8c" stroke-width="0.68"/>
<polyline points="348.5,384.5 353.5,387.4" fill="none" stroke="#8c8c8c" stroke-width="0.68"/>
<path d="M8 24 C10 8 22 0 40 0 C60 0 72 10 72 26 C72 42 58 52 40 64 C22 76 8 86 8 100 L74 100" transform="translate(374.5 404.3) scale(0.2364 0.1600) translate(-8 0)" fill="none" stroke="#a0a0a0" stroke-width="0.9" vector-effect="non-scaling-stroke"/>
<line x1="391.8" y1="375.8" x2="383.2" y2="400.5" stroke="#a0a0a0" stroke-width="0.85"/>
<polyline points="274.3,422.9 270.2,426.8 254.1,438.5 238.0,451.9 220.1,468.0 205.8,480.5 198.6,488.6" fill="none" stroke="#151515" stroke-width="1.27"/>
<polyline points="274.3,435.8 259.5,448.3 238.0,466.2 223.7,477.0 220.1,479.8 221.0,484.1 216.5,489.5 202.2,500.2 196.8,508.5" fill="none" stroke="#151515" stroke-width="1.36"/>
<polyline points="293.5,421.5 270.2,439.4 245.2,459.1 223.7,476.1" fill="none" stroke="#151515" stroke-width="0.85"/>
<polyline points="286.3,417.9 255.9,438.5 229.1,459.1 214.7,471.6" fill="none" stroke="#555" stroke-width="0.68"/>
<polyline points="330.0,402.7 313.2,413.4 307.8,416.1" fill="none" stroke="#8c8c8c" stroke-width="0.68"/>
<polyline points="510.9,413.0 507.5,409.3 492.4,400.9 478.9,395.9 467.1,394.2 453.7,398.6 430.1,392.5 427.6,387.4 458.7,368.9 463.8,366.6 470.5,365.9 499.1,347.0 505.9,345.0 510.9,348.0 517.6,358.8" fill="none" stroke="#151515" stroke-width="1.36"/>
<polyline points="430.1,389.5 458.7,371.6" fill="none" stroke="#151515" stroke-width="0.85"/>
<polyline points="457.4,376.7 459.1,368.9 464.1,366.9 470.5,366.6 472.5,370.3 469.8,373.6 477.2,377.3 487.3,367.2" fill="none" stroke="#151515" stroke-width="1.1"/>
<polyline points="457.4,376.7 472.5,382.4 477.6,381.7 487.3,369.3" fill="none" stroke="#151515" stroke-width="1.1"/>
<polyline points="472.5,382.4 473.5,379.4 469.8,373.6" fill="none" stroke="#151515" stroke-width="0.85"/>
<circle cx="464.6" cy="369.3" r="2.0" fill="#eee" stroke="#151515" stroke-width="1.1"/>
<circle cx="464.6" cy="369.3" r="1.0" fill="#777" stroke="#151515" stroke-width="0.85"/>
<polyline points="499.1,347.4 484.0,358.8 482.3,362.5 492.4,366.6 495.1,363.9 510.9,352.1" fill="none" stroke="#151515" stroke-width="1.02"/>
<polyline points="505.9,348.0 494.1,360.5" fill="none" stroke="#151515" stroke-width="0.85"/>
<polyline points="484.0,358.8 494.1,360.5 492.4,366.6" fill="none" stroke="#151515" stroke-width="0.77"/>
<circle cx="502.5" cy="348.7" r="2.0" fill="#eee" stroke="#151515" stroke-width="1.1"/>
<circle cx="502.5" cy="348.7" r="1.0" fill="#777" stroke="#151515" stroke-width="0.85"/>
<polyline points="465.5,390.1 469.2,385.4 475.6,384.1 479.3,385.1 486.7,386.1" fill="none" stroke="#151515" stroke-width="1.1"/>
<polyline points="486.7,384.1 487.3,389.1" fill="none" stroke="#151515" stroke-width="0.85"/>
<circle cx="473.5" cy="386.8" r="2.0" fill="#eee" stroke="#151515" stroke-width="1.1"/>
<circle cx="473.5" cy="386.8" r="1.0" fill="#777" stroke="#151515" stroke-width="0.85"/>
<polygon points="487.3,382.4 488.2,375.0 494.1,368.2 499.1,365.6 517.6,358.8 537.8,352.1 554.7,350.4 559.7,352.8 554.7,358.8 500.8,380.7 494.1,384.1" fill="none" stroke="#151515" stroke-width="1.19"/>
<polyline points="494.1,368.2 495.8,375.7 494.1,384.1" fill="none" stroke="#151515" stroke-width="0.85"/>
<polyline points="495.8,375.7 556.4,354.1" fill="none" stroke="#151515" stroke-width="0.77"/>
<polyline points="499.1,368.9 554.7,352.4" fill="none" stroke="#8c8c8c" stroke-width="0.68"/>
<polyline points="499.1,363.9 499.1,366.2" fill="none" stroke="#151515" stroke-width="1.1"/>
<polyline points="502.8,362.5 502.8,364.9" fill="none" stroke="#151515" stroke-width="1.1"/>
<polyline points="506.9,361.2 506.9,363.5" fill="none" stroke="#151515" stroke-width="1.1"/>
<polyline points="510.9,360.0 510.9,362.2" fill="none" stroke="#151515" stroke-width="1.1"/>
<polyline points="504.2,386.8 510.9,380.0 517.6,376.7 570.0,358.8" fill="none" stroke="#151515" stroke-width="1.19"/>
<polyline points="504.2,386.8 507.5,389.1 516.0,390.8 522.7,385.8 570.0,367.6" fill="none" stroke="#151515" stroke-width="1.19"/>
<polyline points="510.9,380.0 514.3,384.1 516.0,390.8" fill="none" stroke="#151515" stroke-width="0.85"/>
<polyline points="514.3,384.1 570.0,363.5" fill="none" stroke="#151515" stroke-width="0.77"/>
<polyline points="517.6,379.4 570.0,361.2" fill="none" stroke="#8c8c8c" stroke-width="0.68"/>
<polyline points="524.4,399.2 534.5,392.5 541.2,389.1 570.0,377.3" fill="none" stroke="#151515" stroke-width="1.19"/>
<polyline points="524.4,399.2 537.8,402.6 544.6,397.5 570.0,386.1" fill="none" stroke="#151515" stroke-width="1.19"/>
<polyline points="534.5,392.5 537.8,397.5 537.8,402.6" fill="none" stroke="#151515" stroke-width="0.85"/>
<polyline points="537.8,397.5 570.0,382.4" fill="none" stroke="#151515" stroke-width="0.77"/>
<polyline points="512.3,406.3 516.0,402.6 524.4,401.8 529.8,404.6" fill="none" stroke="#151515" stroke-width="1.1"/>
<circle cx="519.3" cy="405.3" r="2.0" fill="#eee" stroke="#151515" stroke-width="1.1"/>
<circle cx="519.3" cy="405.3" r="1.0" fill="#777" stroke="#151515" stroke-width="0.85"/>
<polyline points="553.0,408.0 558.0,404.3 566.5,405.3" fill="none" stroke="#151515" stroke-width="1.1"/>
<circle cx="560.7" cy="407.6" r="2.0" fill="#eee" stroke="#151515" stroke-width="1.1"/>
<circle cx="560.7" cy="407.6" r="1.0" fill="#777" stroke="#151515" stroke-width="0.85"/>
<polyline points="546.3,397.5 547.9,395.0 549.6,397.9" fill="none" stroke="#151515" stroke-width="0.94"/>
<polyline points="473.5,389.5 473.5,412.0" fill="none" stroke="#777" stroke-width="0.8" stroke-dasharray="7 3"/>
<g transform="translate(494.9 332.9)"><path d="M-3.4,-3.5 L3.4,-3.5 L3.6,-0.5 L1.6,0.3 L1.6,4.6 L-1.6,4.6 L-1.6,0.3 L-3.6,-0.5 Z" fill="#bbb" stroke="#151515" stroke-width="1.2"/><path d="M-3.4,-1.6 L3.4,-1.6" stroke="#151515" stroke-width="0.9"/></g>
<g transform="translate(561.8 346.4)"><path d="M-3.4,-3.5 L3.4,-3.5 L3.6,-0.5 L1.6,0.3 L1.6,4.6 L-1.6,4.6 L-1.6,0.3 L-3.6,-0.5 Z" fill="#bbb" stroke="#151515" stroke-width="1.2"/><path d="M-3.4,-1.6 L3.4,-1.6" stroke="#151515" stroke-width="0.9"/></g>
<polygon points="453.7,355.5 456.0,354.1 459.1,355.1 460.1,357.8 458.0,359.8 454.7,359.5" fill="#ccc" stroke="#151515" stroke-width="1.1"/>
<circle cx="456.7" cy="357.1" r="1.0" fill="none" stroke="#151515" stroke-width="0.77"/>
<line x1="442.3" y1="322.0" x2="455.4" y2="354.1" stroke="#a0a0a0" stroke-width="0.85"/>
<polyline points="458.0,360.5 462.4,366.6" fill="none" stroke="#a0a0a0" stroke-width="0.7" stroke-dasharray="6 2 1.5 2"/>
<polyline points="496.6,337.8 501.1,345.7" fill="none" stroke="#a0a0a0" stroke-width="0.7" stroke-dasharray="6 2 1.5 2"/>
<path d="M68 0 L16 0 L12 44 C20 38 30 36 40 36 C60 36 73 48 73 67 C73 88 58 100 38 100 C24 100 13 95 7 88" transform="translate(478.4 292.5) scale(0.2273 0.1600) translate(-7 0)" fill="none" stroke="#a0a0a0" stroke-width="0.9" vector-effect="non-scaling-stroke"/>
<line x1="491.5" y1="310.0" x2="494.1" y2="328.5" stroke="#a0a0a0" stroke-width="0.85"/>
<line x1="491.5" y1="310.0" x2="559.7" y2="343.7" stroke="#a0a0a0" stroke-width="0.85"/>
<polyline points="570.2,352.1 583.7,355.5 600.5,358.8 620.7,356.8 634.2,358.1 647.6,363.9 656.1,367.2 657.7,375.7 659.4,379.4 674.6,386.8 684.7,393.5 679.6,397.5 657.7,402.6 655.4,397.5 644.3,395.2 634.2,389.1" fill="none" stroke="#151515" stroke-width="1.36"/>
<polyline points="550.0,350.4 561.8,353.1 570.2,352.1" fill="none" stroke="#151515" stroke-width="1.27"/>
<polyline points="571.9,413.0 592.1,400.9 617.3,392.5 637.5,387.4 654.4,382.4 664.5,381.7 674.6,386.8" fill="none" stroke="#151515" stroke-width="1.44"/>
<polyline points="566.8,412.0 588.7,399.2 615.7,390.1 635.9,385.1 652.7,380.0 659.4,379.4" fill="none" stroke="#151515" stroke-width="1.02"/>
<polyline points="580.3,413.0 597.1,403.6 620.7,394.8 634.2,389.1" fill="none" stroke="#151515" stroke-width="0.94"/>
<polyline points="550.0,377.3 566.8,370.6 583.7,364.9 592.1,367.2 600.5,374.0 614.0,382.4 620.7,389.1" fill="none" stroke="#151515" stroke-width="1.1"/>
<polyline points="550.0,365.6 571.9,359.2 583.7,360.5 592.1,367.2" fill="none" stroke="#151515" stroke-width="0.94"/>
<polyline points="583.7,355.5 582.0,360.5 583.7,364.9" fill="none" stroke="#151515" stroke-width="0.77"/>
<polygon points="597.1,360.5 617.3,358.1 637.5,360.5 644.3,365.6 634.2,369.9 614.0,370.9 600.5,367.2" fill="none" stroke="#151515" stroke-width="1.02"/>
<polyline points="603.9,360.5 620.7,359.8 637.5,363.2" fill="none" stroke="#8c8c8c" stroke-width="0.68"/>
<polyline points="600.5,367.2 610.6,377.3 620.7,384.1 624.1,389.1" fill="none" stroke="#151515" stroke-width="0.85"/>
<polyline points="634.2,369.9 629.1,377.3 627.4,389.1" fill="none" stroke="#151515" stroke-width="0.77"/>
<polyline points="614.0,370.9 620.7,384.1" fill="none" stroke="#8c8c8c" stroke-width="0.68"/>
<polyline points="644.3,365.6 651.0,370.6 657.7,375.7" fill="none" stroke="#151515" stroke-width="0.85"/>
<polyline points="647.6,363.9 644.3,365.6" fill="none" stroke="#151515" stroke-width="0.77"/>
<ellipse cx="579.0" cy="379.0" rx="2.4" ry="1.7" fill="#ddd" stroke="#151515" stroke-width="1.02" transform="rotate(-20 579.0 379.0)"/>
<polyline points="571.9,380.7 578.6,376.3 585.4,377.3 595.5,392.5 597.1,398.2" fill="none" stroke="#151515" stroke-width="1.02"/>
<polyline points="550.0,390.8 575.3,377.3" fill="none" stroke="#151515" stroke-width="0.85"/>
<polyline points="550.0,384.1 570.2,374.0 583.7,368.9" fill="none" stroke="#8c8c8c" stroke-width="0.68"/>
<polyline points="566.8,412.0 560.1,407.6 553.4,409.3 550.0,412.0" fill="none" stroke="#151515" stroke-width="1.1"/>
<circle cx="559.8" cy="408.3" r="1.7" fill="#eee" stroke="#151515" stroke-width="1.1"/>
<circle cx="559.8" cy="408.3" r="0.8" fill="#777" stroke="#151515" stroke-width="0.85"/>
<polyline points="585.4,377.3 592.1,374.0 600.5,374.0" fill="none" stroke="#8c8c8c" stroke-width="0.68"/>
<polyline points="634.2,389.1 640.9,395.9 651.0,397.5 657.7,402.6" fill="none" stroke="#151515" stroke-width="1.02"/>
<polyline points="644.3,387.4 649.3,394.2 651.0,397.5" fill="none" stroke="#151515" stroke-width="1.02"/>
<polyline points="661.1,384.1 666.2,394.2 671.2,397.5" fill="none" stroke="#151515" stroke-width="1.02"/>
<ellipse cx="648.0" cy="391.5" rx="2.4" ry="1.2" fill="none" stroke="#151515" stroke-width="0.85" transform="rotate(60 648.0 391.5)"/>
<ellipse cx="666.8" cy="393.5" rx="2.7" ry="1.2" fill="none" stroke="#151515" stroke-width="0.85" transform="rotate(60 666.8 393.5)"/>
<g transform="translate(591.2 331.5)"><path d="M-4,-1.6 L-1,-3 L3.6,-2 L4.2,0.6 L1.5,1.6 L1,3.6 L-1.8,3.4 L-1.6,1.2 L-4,0.6 Z" fill="#1d1d1d" stroke="#151515" stroke-width="1.0"/></g>
<g transform="translate(649.3 344.7)"><path d="M-4,-1.6 L-1,-3 L3.6,-2 L4.2,0.6 L1.5,1.6 L1,3.6 L-1.8,3.4 L-1.6,1.2 L-4,0.6 Z" fill="#1d1d1d" stroke="#151515" stroke-width="1.0"/></g>
<g transform="translate(652.0 350.4)"><path d="M-4,-1.6 L-1,-3 L3.6,-2 L4.2,0.6 L1.5,1.6 L1,3.6 L-1.8,3.4 L-1.6,1.2 L-4,0.6 Z" fill="#1d1d1d" stroke="#151515" stroke-width="1.0"/></g>
<g transform="translate(695.8 369.9)"><path d="M-4,-1.6 L-1,-3 L3.6,-2 L4.2,0.6 L1.5,1.6 L1,3.6 L-1.8,3.4 L-1.6,1.2 L-4,0.6 Z" fill="#1d1d1d" stroke="#151515" stroke-width="1.0"/></g>
<g transform="translate(561.8 346.5) rotate(-15)"><path d="M-3.4,-3.5 L3.4,-3.5 L3.6,-0.5 L1.6,0.3 L1.6,4.6 L-1.6,4.6 L-1.6,0.3 L-3.6,-0.5 Z" fill="#ccc" stroke="#151515" stroke-width="1.2"/></g>
<path d="M58 100 L58 0 L4 70 L78 70" transform="translate(657.0 295.5) scale(0.2313 0.1650) translate(-4 0)" fill="none" stroke="#a0a0a0" stroke-width="0.9" vector-effect="non-scaling-stroke"/>
<line x1="661.1" y1="314.2" x2="597.1" y2="328.5" stroke="#a0a0a0" stroke-width="0.85"/>
<line x1="661.1" y1="314.2" x2="652.7" y2="341.1" stroke="#a0a0a0" stroke-width="0.85"/>
<line x1="661.1" y1="314.2" x2="655.2" y2="346.2" stroke="#a0a0a0" stroke-width="0.85"/>
<line x1="661.1" y1="314.2" x2="696.5" y2="366.4" stroke="#a0a0a0" stroke-width="0.85"/>
<polyline points="587.9,335.3 568.5,351.2" fill="none" stroke="#a0a0a0" stroke-width="0.7" stroke-dasharray="6 2 1.5 2"/>
<polyline points="646.0,347.9 617.3,370.6 605.6,380.7" fill="none" stroke="#a0a0a0" stroke-width="0.7" stroke-dasharray="6 2 1.5 2"/>
<polyline points="649.3,353.8 630.8,368.9" fill="none" stroke="#a0a0a0" stroke-width="0.7" stroke-dasharray="6 2 1.5 2"/>
<polyline points="693.1,373.1 674.6,387.4" fill="none" stroke="#a0a0a0" stroke-width="0.7" stroke-dasharray="6 2 1.5 2"/>
<path d="M66 6 C60 2 52 0 44 0 C18 0 7 24 7 56 C7 84 18 100 41 100 C60 100 73 88 73 69 C73 50 60 39 42 39 C24 39 10 50 7 62" transform="translate(749.5 360.0) scale(0.2125 0.1650) translate(-7 0)" fill="none" stroke="#a0a0a0" stroke-width="0.9" vector-effect="non-scaling-stroke"/>
<line x1="684.7" y1="393.3" x2="746.8" y2="377.4" stroke="#a0a0a0" stroke-width="0.85"/>
<polyline points="440.0,394.3 450.1,398.5 461.9,396.2 473.7,395.2 490.5,400.2 507.3,412.0 519.1,422.1 527.5,428.8 549.4,437.2 557.8,430.5 567.9,418.7 579.7,408.6 590.0,401.9" fill="none" stroke="#151515" stroke-width="1.44"/>
<polyline points="551.1,438.9 561.2,427.8 571.3,416.7 590.0,405.6" fill="none" stroke="#151515" stroke-width="0.94"/>
<polyline points="466.1,389.4 468.6,386.1 477.0,385.1 482.4,386.7" fill="none" stroke="#151515" stroke-width="1.1"/>
<polyline points="466.1,389.4 466.9,393.5 473.7,395.2" fill="none" stroke="#151515" stroke-width="0.94"/>
<circle cx="472.8" cy="387.1" r="1.9" fill="#eee" stroke="#151515" stroke-width="1.1"/>
<circle cx="472.8" cy="387.1" r="0.9" fill="#777" stroke="#151515" stroke-width="0.85"/>
<polygon points="512.4,406.3 515.8,402.9 524.2,401.9 527.5,405.3 525.9,411.3 520.8,413.7 515.8,413.0" fill="none" stroke="#151515" stroke-width="1.19"/>
<circle cx="519.1" cy="405.3" r="1.9" fill="#eee" stroke="#151515" stroke-width="1.1"/>
<circle cx="519.1" cy="405.3" r="0.9" fill="#777" stroke="#151515" stroke-width="0.85"/>
<polyline points="556.2,407.9 559.5,404.6 564.6,405.3 567.9,412.0 561.2,416.4" fill="none" stroke="#151515" stroke-width="1.1"/>
<circle cx="560.4" cy="406.6" r="1.3" fill="#888" stroke="#151515" stroke-width="0.94"/>
<polyline points="564.6,405.3 571.3,413.7 567.9,419.1" fill="none" stroke="#151515" stroke-width="1.02"/>
<polyline points="504.0,386.7 510.7,380.0" fill="none" stroke="#151515" stroke-width="1.02"/>
<polyline points="522.5,396.8 529.2,390.1 541.0,386.7" fill="none" stroke="#151515" stroke-width="1.1"/>
<polyline points="522.5,396.8 530.9,400.2 539.3,396.8 544.4,390.1" fill="none" stroke="#151515" stroke-width="1.1"/>
<polyline points="542.7,408.6 547.7,401.9 557.8,396.8" fill="none" stroke="#151515" stroke-width="1.1"/>
<polyline points="542.7,408.6 547.7,413.0 557.8,418.0 561.2,416.4" fill="none" stroke="#151515" stroke-width="1.1"/>
<polyline points="546.1,398.5 547.7,395.2 549.4,398.5" fill="none" stroke="#151515" stroke-width="0.85"/>
<polyline points="527.5,428.8 534.3,420.4 541.0,410.3" fill="none" stroke="#8c8c8c" stroke-width="0.68"/>
<polyline points="531.8,430.5 539.3,420.4 544.4,413.0" fill="none" stroke="#8c8c8c" stroke-width="0.68"/>
<g transform="translate(472.8 425.5)"><path d="M-1.7,-5.5 L1.7,-5.5 L1.7,-0.6 L3.6,0.2 L3.4,3 L-3.4,3 L-3.6,0.2 L-1.7,-0.6 Z" fill="#aaa" stroke="#151515" stroke-width="1.2"/><path d="M-3.4,1.4 L3.4,1.4" stroke="#151515" stroke-width="0.9"/></g>
<g transform="translate(519.1 443.1)"><path d="M-1.7,-5.5 L1.7,-5.5 L1.7,-0.6 L3.6,0.2 L3.4,3 L-3.4,3 L-3.6,0.2 L-1.7,-0.6 Z" fill="#aaa" stroke="#151515" stroke-width="1.2"/><path d="M-3.4,1.4 L3.4,1.4" stroke="#151515" stroke-width="0.9"/></g>
<polyline points="472.8,391.8 472.8,419.1" fill="none" stroke="#777" stroke-width="0.8" stroke-dasharray="7 3"/>
<polyline points="519.1,413.7 519.1,437.2" fill="none" stroke="#777" stroke-width="0.8" stroke-dasharray="7 3"/>
<polyline points="519.1,446.7 519.1,452.7" fill="none" stroke="#777" stroke-width="0.8" stroke-dasharray="7 3"/>
<polyline points="472.8,429.8 472.8,433.9" fill="none" stroke="#777" stroke-width="0.8" stroke-dasharray="7 3"/>
<line x1="476.2" y1="454.1" x2="473.7" y2="430.5" stroke="#a0a0a0" stroke-width="0.85"/>
<line x1="476.2" y1="454.1" x2="514.9" y2="444.8" stroke="#a0a0a0" stroke-width="0.85"/>
<path d="M68 0 L16 0 L12 44 C20 38 30 36 40 36 C60 36 73 48 73 67 C73 88 58 100 38 100 C24 100 13 95 7 88" transform="translate(464.4 459.1) scale(0.2273 0.1600) translate(-7 0)" fill="none" stroke="#a0a0a0" stroke-width="0.9" vector-effect="non-scaling-stroke"/>
<polygon points="575.7,430.5 578.0,428.8 581.4,429.8 582.4,432.5 580.4,434.9 576.7,434.2" fill="#ccc" stroke="#151515" stroke-width="1.1"/>
<circle cx="578.7" cy="431.9" r="1.0" fill="none" stroke="#151515" stroke-width="0.77"/>
<line x1="579.7" y1="436.4" x2="583.1" y2="454.1" stroke="#a0a0a0" stroke-width="0.85"/>
<path d="M58 100 L58 0 L4 70 L78 70" transform="translate(576.0 455.0) scale(0.2243 0.1600) translate(-4 0)" fill="none" stroke="#a0a0a0" stroke-width="0.9" vector-effect="non-scaling-stroke"/>
<line x1="564.6" y1="410.3" x2="576.4" y2="429.7" stroke="#a0a0a0" stroke-width="0.85"/>
<polyline points="153.9,505.9 167.3,508.6 172.4,511.3 176.1,513.7 173.4,518.0 177.8,517.0 184.2,512.0 189.2,508.6" fill="none" stroke="#151515" stroke-width="1.36"/>
<polyline points="172.4,511.3 179.1,513.0" fill="none" stroke="#151515" stroke-width="0.85"/>
<path d="M18 16 L40 0 L40 100 M16 100 L64 100" transform="translate(207.7 508.6) scale(0.1729 0.1660) translate(-16 0)" fill="none" stroke="#a0a0a0" stroke-width="0.9" vector-effect="non-scaling-stroke"/>
<path d="M14 94 C20 98 28 100 36 100 C62 100 73 76 73 44 C73 16 62 0 39 0 C20 0 7 12 7 31 C7 50 20 61 38 61 C56 61 70 50 73 38" transform="translate(219.5 508.6) scale(0.2091 0.1660) translate(-7 0)" fill="none" stroke="#a0a0a0" stroke-width="0.9" vector-effect="non-scaling-stroke"/>
<line x1="138.7" y1="537.2" x2="201.0" y2="522.9" stroke="#a0a0a0" stroke-width="0.85"/>
<path d="M18 16 L40 0 L40 100 M16 100 L64 100" transform="translate(222.0 537.2) scale(0.1729 0.1660) translate(-16 0)" fill="none" stroke="#a0a0a0" stroke-width="0.9" vector-effect="non-scaling-stroke"/>
<path d="M40 0 C22 0 11 9 11 23 C11 38 24 47 40 47 C56 47 69 38 69 23 C69 9 58 0 40 0 Z M40 47 C20 47 6 57 6 73 C6 90 20 100 40 100 C60 100 74 90 74 73 C74 57 60 47 40 47 Z" transform="translate(233.8 537.2) scale(0.2136 0.1660) translate(-6 0)" fill="none" stroke="#a0a0a0" stroke-width="0.9" vector-effect="non-scaling-stroke"/>
<line x1="155.6" y1="546.5" x2="216.2" y2="550.7" stroke="#a0a0a0" stroke-width="0.85"/>
<polygon points="133.7,538.2 135.7,536.6 138.4,537.2 138.0,539.9 135.7,541.3 134.0,540.3" fill="#222" stroke="#151515" stroke-width="1.02"/>
<polygon points="145.8,544.6 148.8,544.0 150.5,546.0 154.2,545.7 155.6,548.0 153.2,550.0 150.5,549.0 149.2,550.7 147.1,548.7" fill="#222" stroke="#151515" stroke-width="1.02"/>
<polyline points="138.0,541.6 147.5,546.0" fill="none" stroke="#a0a0a0" stroke-width="0.7" stroke-dasharray="6 2 1.5 2"/>
<polyline points="100.0,512.0 115.5,507.6" fill="none" stroke="#a0a0a0" stroke-width="0.7" stroke-dasharray="6 2 1.5 2"/>
<polyline points="125.3,505.3 138.0,499.2" fill="none" stroke="#a0a0a0" stroke-width="0.7" stroke-dasharray="6 2 1.5 2"/>
<polyline points="123.6,520.4 139.7,513.7 160.9,506.9" fill="none" stroke="#a0a0a0" stroke-width="0.7" stroke-dasharray="6 2 1.5 2"/>
<line x1="100.0" y1="498.5" x2="116.8" y2="505.3" stroke="#a0a0a0" stroke-width="0.85"/>
<path d="M18 16 L40 0 L40 100 M16 100 L64 100" transform="translate(58.0 475.5) scale(0.1708 0.1640) translate(-16 0)" fill="none" stroke="#a0a0a0" stroke-width="0.9" vector-effect="non-scaling-stroke"/>
<path d="M40 0 C22 0 11 9 11 23 C11 38 24 47 40 47 C56 47 69 38 69 23 C69 9 58 0 40 0 Z M40 47 C20 47 6 57 6 73 C6 90 20 100 40 100 C60 100 74 90 74 73 C74 57 60 47 40 47 Z" transform="translate(69.7 475.5) scale(0.2110 0.1640) translate(-6 0)" fill="none" stroke="#a0a0a0" stroke-width="0.9" vector-effect="non-scaling-stroke"/>
<line x1="82.5" y1="491.0" x2="116.2" y2="505.3" stroke="#a0a0a0" stroke-width="0.85"/>
<path d="M18 16 L40 0 L40 100 M16 100 L64 100" transform="translate(9.3 491.8) scale(0.1687 0.1620) translate(-16 0)" fill="none" stroke="#a0a0a0" stroke-width="0.9" vector-effect="non-scaling-stroke"/>
<path d="M14 94 C20 98 28 100 36 100 C62 100 73 76 73 44 C73 16 62 0 39 0 C20 0 7 12 7 31 C7 50 20 61 38 61 C56 61 70 50 73 38" transform="translate(20.9 491.8) scale(0.2040 0.1620) translate(-7 0)" fill="none" stroke="#a0a0a0" stroke-width="0.9" vector-effect="non-scaling-stroke"/>
<line x1="36.2" y1="507.0" x2="69.0" y2="523.0" stroke="#a0a0a0" stroke-width="0.85"/>
<path d="M8 24 C10 8 22 0 40 0 C60 0 72 10 72 26 C72 42 58 52 40 64 C22 76 8 86 8 100 L74 100" transform="translate(12.6 559.1) scale(0.2437 0.1650) translate(-8 0)" fill="none" stroke="#a0a0a0" stroke-width="0.9" vector-effect="non-scaling-stroke"/>
<path d="M40 0 C14 0 6 22 6 50 C6 78 14 100 40 100 C66 100 74 78 74 50 C74 22 66 0 40 0 Z" transform="translate(30.9 559.1) scale(0.2063 0.1650) translate(-6 0)" fill="none" stroke="#a0a0a0" stroke-width="0.9" vector-effect="non-scaling-stroke"/>
<line x1="44.6" y1="570.9" x2="87.5" y2="547.3" stroke="#a0a0a0" stroke-width="0.85"/>
<circle cx="72.1" cy="524.6" r="2.9" fill="#1a1a1a" stroke="#151515" stroke-width="0.85"/>
<circle cx="79.5" cy="538.1" r="2.9" fill="#1a1a1a" stroke="#151515" stroke-width="0.85"/>
<circle cx="71.7" cy="524.1" r="0.8" fill="#aaa" stroke="#999" stroke-width="0.42"/>
<circle cx="79.1" cy="537.6" r="0.8" fill="#aaa" stroke="#999" stroke-width="0.42"/>
<polyline points="74.1,528.0 78.3,534.7" fill="none" stroke="#151515" stroke-width="1.02"/>
<circle cx="119.9" cy="506.6" r="3.0" fill="#bbb" stroke="#151515" stroke-width="1.1"/>
<circle cx="119.9" cy="506.6" r="1.5" fill="#777" stroke="#151515" stroke-width="0.85"/>
<circle cx="143.1" cy="513.0" r="2.7" fill="#bbb" stroke="#151515" stroke-width="1.1"/>
<circle cx="143.1" cy="513.0" r="1.3" fill="#777" stroke="#151515" stroke-width="0.85"/>
<line x1="124.6" y1="507.8" x2="141.4" y2="512.8" stroke="#a0a0a0" stroke-width="0.85"/>
<polyline points="126.3,534.9 129.6,536.6 133.0,533.9 134.7,528.8 129.6,525.5 117.8,519.7 101.0,514.7 87.5,511.6 84.2,512.8 81.6,516.2 82.5,523.8 85.9,537.2 89.2,549.0 91.9,553.4 101.0,554.1 117.8,555.8 127.9,558.5 131.6,559.5" fill="none" stroke="#151515" stroke-width="1.44"/>
<polyline points="124.6,537.2 127.9,547.3 134.7,560.8 139.7,564.2 138.9,568.6 136.4,567.5 129.6,554.1 124.9,542.6 123.9,537.2" fill="none" stroke="#151515" stroke-width="1.27"/>
<polyline points="129.6,536.6 134.7,550.7 139.1,564.2" fill="none" stroke="#151515" stroke-width="0.85"/>
<polyline points="84.2,515.4 101.0,518.7 117.8,523.8 129.6,529.8" fill="none" stroke="#151515" stroke-width="0.94"/>
<polyline points="87.5,522.1 101.0,524.8 121.2,530.5" fill="none" stroke="#555" stroke-width="0.77"/>
<polyline points="85.9,516.2 86.7,528.8 88.6,530.5" fill="none" stroke="#151515" stroke-width="1.36"/>
<polyline points="101.0,519.6 104.4,530.5 107.7,533.9" fill="none" stroke="#151515" stroke-width="1.36"/>
<polyline points="121.2,525.5 124.6,535.6" fill="none" stroke="#151515" stroke-width="1.36"/>
<polyline points="89.2,530.5 101.0,528.1 107.7,529.8" fill="none" stroke="#555" stroke-width="0.77"/>
<polyline points="131.3,528.8 126.3,534.9" fill="none" stroke="#151515" stroke-width="1.1"/>
<circle cx="91.9" cy="517.4" r="0.8" fill="#888" stroke="#151515" stroke-width="0.77"/>
<circle cx="115.2" cy="524.1" r="0.8" fill="#888" stroke="#151515" stroke-width="0.77"/>
<polyline points="75.8,522.9 117.8,507.8" fill="none" stroke="#a0a0a0" stroke-width="0.7" stroke-dasharray="6 2 1.5 2"/>
<polyline points="82.5,536.4 141.4,514.5" fill="none" stroke="#a0a0a0" stroke-width="0.7" stroke-dasharray="6 2 1.5 2"/>
</g>
</svg>
</body></html>
